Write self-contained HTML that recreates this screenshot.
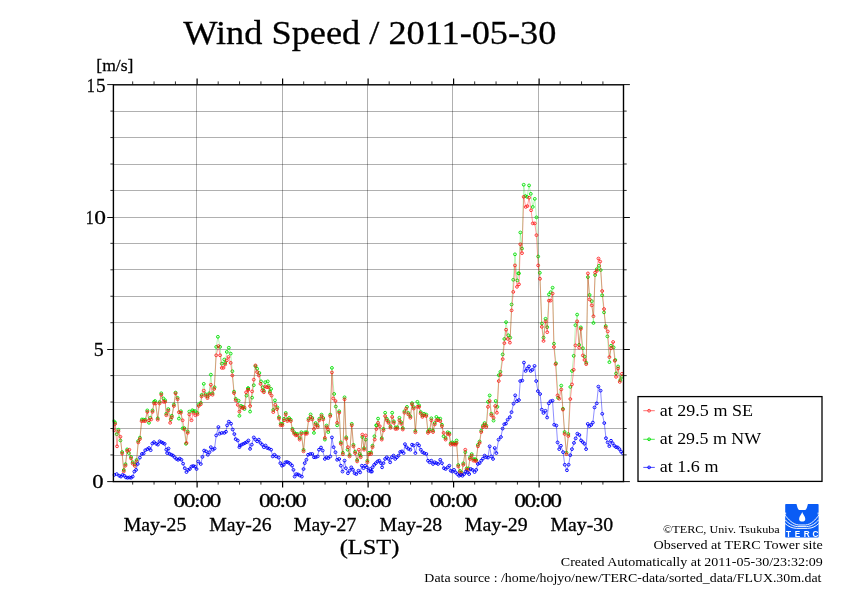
<!DOCTYPE html>
<html><head><meta charset="utf-8"><title>Wind Speed / 2011-05-30</title>
<style>html,body{margin:0;padding:0;background:#fff;width:842px;height:595px;overflow:hidden}svg{display:block}</style>
</head><body>
<svg width="842" height="595" viewBox="0 0 842 595">
<defs><clipPath id="pc"><rect x="112.6" y="84.6" width="511.4" height="400"/></clipPath></defs>
<rect width="842" height="595" fill="#fff"/>
<path d="M113.4 455.5H623.7M113.4 428.5H623.7M113.4 402.5H623.7M113.4 375.5H623.7M113.4 349.5H623.7M113.4 322.5H623.7M113.4 296.5H623.7M113.4 269.5H623.7M113.4 243.5H623.7M113.4 217.5H623.7M113.4 190.5H623.7M113.4 164.5H623.7M113.4 137.5H623.7M113.4 111.5H623.7" stroke="#000" stroke-opacity="0.31" stroke-width="1" fill="none"/><path d="M196.5 84.6V481.4M282.5 84.6V481.4M367.5 84.6V481.4M452.5 84.6V481.4M538.5 84.6V481.4" stroke="#000" stroke-opacity="0.31" stroke-width="1" fill="none"/><path d="M197.10 481.4V487.6M197.10 84.6V78.4M282.60 481.4V487.6M282.60 84.6V78.4M368.10 481.4V487.6M368.10 84.6V78.4M453.60 481.4V487.6M453.60 84.6V78.4M539.10 481.4V487.6M539.10 84.6V78.4" stroke="#000" stroke-width="1.2" fill="none"/><path d="M107.20 481.60H113.4M623.7 481.60H629.90M107.20 349.50H113.4M623.7 349.50H629.90M107.20 217.50H113.4M623.7 217.50H629.90M107.20 84.60H113.4M623.7 84.60H629.90" stroke="#000" stroke-width="0.95" fill="none"/><path d="M110.40 454.95H113.4M623.7 454.95H626.70M110.40 428.50H113.4M623.7 428.50H626.70M110.40 402.05H113.4M623.7 402.05H626.70M110.40 375.60H113.4M623.7 375.60H626.70M110.40 322.70H113.4M623.7 322.70H626.70M110.40 296.25H113.4M623.7 296.25H626.70M110.40 269.80H113.4M623.7 269.80H626.70M110.40 243.35H113.4M623.7 243.35H626.70M110.40 190.45H113.4M623.7 190.45H626.70M110.40 164.00H113.4M623.7 164.00H626.70M110.40 137.55H113.4M623.7 137.55H626.70M110.40 111.10H113.4M623.7 111.10H626.70M132.68 481.4V484.6M132.68 84.6V81.4M154.05 481.4V484.6M154.05 84.6V81.4M175.43 481.4V484.6M175.43 84.6V81.4M218.18 481.4V484.6M218.18 84.6V81.4M239.55 481.4V484.6M239.55 84.6V81.4M260.93 481.4V484.6M260.93 84.6V81.4M303.68 481.4V484.6M303.68 84.6V81.4M325.05 481.4V484.6M325.05 84.6V81.4M346.43 481.4V484.6M346.43 84.6V81.4M389.18 481.4V484.6M389.18 84.6V81.4M410.55 481.4V484.6M410.55 84.6V81.4M431.93 481.4V484.6M431.93 84.6V81.4M474.68 481.4V484.6M474.68 84.6V81.4M496.05 481.4V484.6M496.05 84.6V81.4M517.42 481.4V484.6M517.42 84.6V81.4M560.17 481.4V484.6M560.17 84.6V81.4M581.55 481.4V484.6M581.55 84.6V81.4M602.92 481.4V484.6M602.92 84.6V81.4" stroke="#333" stroke-width="1" fill="none"/><g clip-path="url(#pc)"><g opacity="1.0"><path d="M113.70 421.13 L115.04 422.49 L116.72 434.24 L118.40 429.72 L120.42 440.46 L122.10 452.07 L123.78 470.05 L125.46 464.17 L127.14 449.38 L128.82 453.07 L131.01 456.95 L132.69 462.16 L134.87 464.51 L136.55 459.97 L138.24 440.98 L139.92 437.62 L141.93 419.45 L143.61 419.63 L145.29 419.63 L147.31 410.39 L148.99 422.82 L150.34 417.77 L152.52 410.39 L154.03 401.81 L155.04 400.97 L157.73 418.29 L159.58 401.99 L161.26 393.25 L163.45 398.45 L165.13 400.31 L166.30 413.75 L168.32 409.05 L170.84 419.45 L171.85 415.77 L173.87 404.51 L175.55 392.56 L177.56 397.79 L178.91 418.61 L180.92 411.23 L182.61 428.36 L184.29 428.04 L185.97 443.82 L187.65 431.40 L189.33 411.55 L192.35 410.21 L193.19 411.23 L194.87 411.05 L197.39 412.91 L198.74 404.51 L200.76 402.83 L201.60 394.97 L203.78 383.87 L205.46 394.13 L207.48 396.65 L209.16 393.29 L210.84 374.62 L212.52 393.29 L214.54 387.23 L216.22 346.89 L217.90 336.81 L220.08 346.89 L221.76 363.70 L224.29 359.50 L225.13 363.04 L226.81 351.93 L228.82 347.73 L230.67 353.61 L232.35 371.26 L234.03 391.61 L235.71 398.84 L238.57 400.67 L239.41 415.80 L241.09 405.89 L242.77 406.74 L244.45 409.08 L246.47 395.63 L248.07 388.25 L248.15 388.25 L250.08 411.60 L252.10 397.65 L253.78 385.21 L255.46 366.22 L257.14 368.74 L259.33 372.94 L261.01 381.34 L262.69 387.23 L263.87 390.77 L265.21 382.18 L267.73 381.34 L268.57 385.73 L269.92 391.61 L271.09 388.91 L273.28 409.92 L274.96 400.34 L277.31 407.39 L278.99 417.11 L280.67 423.84 L282.35 423.84 L284.03 418.79 L285.71 412.91 L287.39 419.63 L289.08 417.95 L290.76 419.63 L292.44 428.88 L294.12 432.24 L295.80 433.92 L297.48 433.92 L299.66 438.12 L301.34 432.24 L303.53 449.89 L305.21 432.24 L306.89 432.24 L308.57 418.79 L310.59 414.41 L312.27 417.95 L313.95 432.90 L315.63 423.00 L317.65 425.52 L319.33 418.79 L321.51 414.59 L323.19 417.95 L324.87 439.62 L326.55 425.52 L328.24 432.06 L330.25 414.59 L331.93 367.90 L334.12 393.95 L335.80 406.55 L337.14 425.34 L339.16 411.23 L340.84 442.32 L342.86 452.74 L344.54 397.31 L346.22 437.28 L347.56 449.71 L349.58 454.93 L351.76 423.84 L353.45 444.84 L355.13 451.57 L357.14 459.97 L359.66 453.91 L360.67 455.77 L362.35 437.10 L364.03 448.21 L365.71 439.62 L367.39 460.81 L369.08 452.74 L371.09 452.41 L372.52 445.68 L374.45 436.26 L376.39 425.34 L376.47 425.34 L378.07 418.61 L381.76 438.12 L383.45 428.88 L385.13 412.73 L386.81 418.79 L388.49 421.32 L390.50 426.36 L392.18 412.73 L393.87 421.32 L395.55 427.53 L397.23 427.20 L399.41 417.77 L401.09 422.16 L402.77 428.04 L404.45 411.23 L406.97 406.85 L408.32 412.91 L410.34 416.27 L412.02 403.15 L413.70 407.03 L415.38 430.89 L417.39 401.81 L419.08 405.35 L420.76 412.07 L422.44 415.43 L424.12 413.75 L426.30 414.59 L427.98 431.40 L429.66 429.72 L431.34 418.28 L433.03 430.56 L434.71 423.00 L436.39 416.93 L438.07 418.79 L440.25 418.61 L441.93 424.68 L443.61 436.26 L445.63 438.12 L447.65 432.24 L449.33 433.08 L450.67 443.16 L452.35 442.32 L454.03 443.16 L455.71 443.16 L456.55 440.46 L458.24 465.01 L459.92 470.89 L461.60 472.58 L463.28 463.33 L465.29 452.23 L466.64 468.37 L468.32 468.37 L470.00 457.45 L471.68 454.09 L473.36 459.13 L475.04 459.13 L476.22 459.97 L477.90 444.84 L479.58 441.48 L481.26 430.56 L482.94 425.52 L484.62 423.00 L486.30 425.52 L487.98 401.81 L489.66 395.42 L491.34 413.75 L493.53 420.63 L495.71 400.97 L497.39 406.85 L498.74 375.17 L500.42 371.81 L502.69 354.41 L504.37 338.95 L506.05 322.14 L508.24 335.25 L510.25 337.61 L511.60 304.50 L513.28 279.79 L514.96 254.33 L517.31 280.46 L518.32 273.32 L518.99 273.40 L520.34 232.48 L522.02 248.61 L523.70 184.75 L525.38 196.01 L527.06 196.85 L529.08 185.42 L530.76 193.82 L532.77 206.93 L534.79 198.87 L536.47 217.35 L538.15 256.51 L539.83 272.82 L541.85 323.49 L543.53 337.61 L545.55 318.78 L547.23 327.18 L548.91 294.41 L550.59 292.23 L552.61 287.69 L553.95 343.66 L555.97 363.32 L558.07 397.86 L561.26 385.59 L562.94 408.78 L564.62 431.97 L566.47 452.66 L568.32 433.99 L570.34 386.93 L572.02 370.97 L573.70 355.84 L575.46 325.17 L577.14 314.58 L579.16 344.83 L580.84 327.37 L582.86 348.19 L584.54 356.60 L586.22 362.66 L587.90 277.10 L589.58 294.92 L591.76 301.13 L593.45 322.98 L595.13 275.08 L596.81 269.20 L598.99 265.84 L600.67 270.04 L602.18 295.25 L604.03 312.39 L605.71 326.02 L607.39 336.43 L609.41 362.14 L611.09 345.67 L613.61 347.35 L615.29 359.96 L616.05 373.49 L618.07 366.43 L620.25 380.21 L621.93 376.85" stroke="#00e000" stroke-width="0.45" stroke-opacity="0.6" fill="none"/><g stroke="#00e000" stroke-width="0.9" fill="none"><ellipse cx="113.70" cy="421.13" rx="1.45" ry="1.38"/><ellipse cx="115.04" cy="422.49" rx="1.45" ry="1.38"/><ellipse cx="116.72" cy="434.24" rx="1.45" ry="1.38"/><ellipse cx="118.40" cy="429.72" rx="1.45" ry="1.38"/><ellipse cx="120.42" cy="440.46" rx="1.45" ry="1.38"/><ellipse cx="122.10" cy="452.07" rx="1.45" ry="1.38"/><ellipse cx="123.78" cy="470.05" rx="1.45" ry="1.38"/><ellipse cx="125.46" cy="464.17" rx="1.45" ry="1.38"/><ellipse cx="127.14" cy="449.38" rx="1.45" ry="1.38"/><ellipse cx="128.82" cy="453.07" rx="1.45" ry="1.38"/><ellipse cx="131.01" cy="456.95" rx="1.45" ry="1.38"/><ellipse cx="132.69" cy="462.16" rx="1.45" ry="1.38"/><ellipse cx="134.87" cy="464.51" rx="1.45" ry="1.38"/><ellipse cx="136.55" cy="459.97" rx="1.45" ry="1.38"/><ellipse cx="138.24" cy="440.98" rx="1.45" ry="1.38"/><ellipse cx="139.92" cy="437.62" rx="1.45" ry="1.38"/><ellipse cx="141.93" cy="419.45" rx="1.45" ry="1.38"/><ellipse cx="143.61" cy="419.63" rx="1.45" ry="1.38"/><ellipse cx="145.29" cy="419.63" rx="1.45" ry="1.38"/><ellipse cx="147.31" cy="410.39" rx="1.45" ry="1.38"/><ellipse cx="148.99" cy="422.82" rx="1.45" ry="1.38"/><ellipse cx="150.34" cy="417.77" rx="1.45" ry="1.38"/><ellipse cx="152.52" cy="410.39" rx="1.45" ry="1.38"/><ellipse cx="154.03" cy="401.81" rx="1.45" ry="1.38"/><ellipse cx="155.04" cy="400.97" rx="1.45" ry="1.38"/><ellipse cx="157.73" cy="418.29" rx="1.45" ry="1.38"/><ellipse cx="159.58" cy="401.99" rx="1.45" ry="1.38"/><ellipse cx="161.26" cy="393.25" rx="1.45" ry="1.38"/><ellipse cx="163.45" cy="398.45" rx="1.45" ry="1.38"/><ellipse cx="165.13" cy="400.31" rx="1.45" ry="1.38"/><ellipse cx="166.30" cy="413.75" rx="1.45" ry="1.38"/><ellipse cx="168.32" cy="409.05" rx="1.45" ry="1.38"/><ellipse cx="170.84" cy="419.45" rx="1.45" ry="1.38"/><ellipse cx="171.85" cy="415.77" rx="1.45" ry="1.38"/><ellipse cx="173.87" cy="404.51" rx="1.45" ry="1.38"/><ellipse cx="175.55" cy="392.56" rx="1.45" ry="1.38"/><ellipse cx="177.56" cy="397.79" rx="1.45" ry="1.38"/><ellipse cx="178.91" cy="418.61" rx="1.45" ry="1.38"/><ellipse cx="180.92" cy="411.23" rx="1.45" ry="1.38"/><ellipse cx="182.61" cy="428.36" rx="1.45" ry="1.38"/><ellipse cx="184.29" cy="428.04" rx="1.45" ry="1.38"/><ellipse cx="185.97" cy="443.82" rx="1.45" ry="1.38"/><ellipse cx="187.65" cy="431.40" rx="1.45" ry="1.38"/><ellipse cx="189.33" cy="411.55" rx="1.45" ry="1.38"/><ellipse cx="192.35" cy="410.21" rx="1.45" ry="1.38"/><ellipse cx="193.19" cy="411.23" rx="1.45" ry="1.38"/><ellipse cx="194.87" cy="411.05" rx="1.45" ry="1.38"/><ellipse cx="197.39" cy="412.91" rx="1.45" ry="1.38"/><ellipse cx="198.74" cy="404.51" rx="1.45" ry="1.38"/><ellipse cx="200.76" cy="402.83" rx="1.45" ry="1.38"/><ellipse cx="201.60" cy="394.97" rx="1.45" ry="1.38"/><ellipse cx="203.78" cy="383.87" rx="1.45" ry="1.38"/><ellipse cx="205.46" cy="394.13" rx="1.45" ry="1.38"/><ellipse cx="207.48" cy="396.65" rx="1.45" ry="1.38"/><ellipse cx="209.16" cy="393.29" rx="1.45" ry="1.38"/><ellipse cx="210.84" cy="374.62" rx="1.45" ry="1.38"/><ellipse cx="212.52" cy="393.29" rx="1.45" ry="1.38"/><ellipse cx="214.54" cy="387.23" rx="1.45" ry="1.38"/><ellipse cx="216.22" cy="346.89" rx="1.45" ry="1.38"/><ellipse cx="217.90" cy="336.81" rx="1.45" ry="1.38"/><ellipse cx="220.08" cy="346.89" rx="1.45" ry="1.38"/><ellipse cx="221.76" cy="363.70" rx="1.45" ry="1.38"/><ellipse cx="224.29" cy="359.50" rx="1.45" ry="1.38"/><ellipse cx="225.13" cy="363.04" rx="1.45" ry="1.38"/><ellipse cx="226.81" cy="351.93" rx="1.45" ry="1.38"/><ellipse cx="228.82" cy="347.73" rx="1.45" ry="1.38"/><ellipse cx="230.67" cy="353.61" rx="1.45" ry="1.38"/><ellipse cx="232.35" cy="371.26" rx="1.45" ry="1.38"/><ellipse cx="234.03" cy="391.61" rx="1.45" ry="1.38"/><ellipse cx="235.71" cy="398.84" rx="1.45" ry="1.38"/><ellipse cx="238.57" cy="400.67" rx="1.45" ry="1.38"/><ellipse cx="239.41" cy="415.80" rx="1.45" ry="1.38"/><ellipse cx="241.09" cy="405.89" rx="1.45" ry="1.38"/><ellipse cx="242.77" cy="406.74" rx="1.45" ry="1.38"/><ellipse cx="244.45" cy="409.08" rx="1.45" ry="1.38"/><ellipse cx="246.47" cy="395.63" rx="1.45" ry="1.38"/><ellipse cx="248.07" cy="388.25" rx="1.45" ry="1.38"/><ellipse cx="248.15" cy="388.25" rx="1.45" ry="1.38"/><ellipse cx="250.08" cy="411.60" rx="1.45" ry="1.38"/><ellipse cx="252.10" cy="397.65" rx="1.45" ry="1.38"/><ellipse cx="253.78" cy="385.21" rx="1.45" ry="1.38"/><ellipse cx="255.46" cy="366.22" rx="1.45" ry="1.38"/><ellipse cx="257.14" cy="368.74" rx="1.45" ry="1.38"/><ellipse cx="259.33" cy="372.94" rx="1.45" ry="1.38"/><ellipse cx="261.01" cy="381.34" rx="1.45" ry="1.38"/><ellipse cx="262.69" cy="387.23" rx="1.45" ry="1.38"/><ellipse cx="263.87" cy="390.77" rx="1.45" ry="1.38"/><ellipse cx="265.21" cy="382.18" rx="1.45" ry="1.38"/><ellipse cx="267.73" cy="381.34" rx="1.45" ry="1.38"/><ellipse cx="268.57" cy="385.73" rx="1.45" ry="1.38"/><ellipse cx="269.92" cy="391.61" rx="1.45" ry="1.38"/><ellipse cx="271.09" cy="388.91" rx="1.45" ry="1.38"/><ellipse cx="273.28" cy="409.92" rx="1.45" ry="1.38"/><ellipse cx="274.96" cy="400.34" rx="1.45" ry="1.38"/><ellipse cx="277.31" cy="407.39" rx="1.45" ry="1.38"/><ellipse cx="278.99" cy="417.11" rx="1.45" ry="1.38"/><ellipse cx="280.67" cy="423.84" rx="1.45" ry="1.38"/><ellipse cx="282.35" cy="423.84" rx="1.45" ry="1.38"/><ellipse cx="284.03" cy="418.79" rx="1.45" ry="1.38"/><ellipse cx="285.71" cy="412.91" rx="1.45" ry="1.38"/><ellipse cx="287.39" cy="419.63" rx="1.45" ry="1.38"/><ellipse cx="289.08" cy="417.95" rx="1.45" ry="1.38"/><ellipse cx="290.76" cy="419.63" rx="1.45" ry="1.38"/><ellipse cx="292.44" cy="428.88" rx="1.45" ry="1.38"/><ellipse cx="294.12" cy="432.24" rx="1.45" ry="1.38"/><ellipse cx="295.80" cy="433.92" rx="1.45" ry="1.38"/><ellipse cx="297.48" cy="433.92" rx="1.45" ry="1.38"/><ellipse cx="299.66" cy="438.12" rx="1.45" ry="1.38"/><ellipse cx="301.34" cy="432.24" rx="1.45" ry="1.38"/><ellipse cx="303.53" cy="449.89" rx="1.45" ry="1.38"/><ellipse cx="305.21" cy="432.24" rx="1.45" ry="1.38"/><ellipse cx="306.89" cy="432.24" rx="1.45" ry="1.38"/><ellipse cx="308.57" cy="418.79" rx="1.45" ry="1.38"/><ellipse cx="310.59" cy="414.41" rx="1.45" ry="1.38"/><ellipse cx="312.27" cy="417.95" rx="1.45" ry="1.38"/><ellipse cx="313.95" cy="432.90" rx="1.45" ry="1.38"/><ellipse cx="315.63" cy="423.00" rx="1.45" ry="1.38"/><ellipse cx="317.65" cy="425.52" rx="1.45" ry="1.38"/><ellipse cx="319.33" cy="418.79" rx="1.45" ry="1.38"/><ellipse cx="321.51" cy="414.59" rx="1.45" ry="1.38"/><ellipse cx="323.19" cy="417.95" rx="1.45" ry="1.38"/><ellipse cx="324.87" cy="439.62" rx="1.45" ry="1.38"/><ellipse cx="326.55" cy="425.52" rx="1.45" ry="1.38"/><ellipse cx="328.24" cy="432.06" rx="1.45" ry="1.38"/><ellipse cx="330.25" cy="414.59" rx="1.45" ry="1.38"/><ellipse cx="331.93" cy="367.90" rx="1.45" ry="1.38"/><ellipse cx="334.12" cy="393.95" rx="1.45" ry="1.38"/><ellipse cx="335.80" cy="406.55" rx="1.45" ry="1.38"/><ellipse cx="337.14" cy="425.34" rx="1.45" ry="1.38"/><ellipse cx="339.16" cy="411.23" rx="1.45" ry="1.38"/><ellipse cx="340.84" cy="442.32" rx="1.45" ry="1.38"/><ellipse cx="342.86" cy="452.74" rx="1.45" ry="1.38"/><ellipse cx="344.54" cy="397.31" rx="1.45" ry="1.38"/><ellipse cx="346.22" cy="437.28" rx="1.45" ry="1.38"/><ellipse cx="347.56" cy="449.71" rx="1.45" ry="1.38"/><ellipse cx="349.58" cy="454.93" rx="1.45" ry="1.38"/><ellipse cx="351.76" cy="423.84" rx="1.45" ry="1.38"/><ellipse cx="353.45" cy="444.84" rx="1.45" ry="1.38"/><ellipse cx="355.13" cy="451.57" rx="1.45" ry="1.38"/><ellipse cx="357.14" cy="459.97" rx="1.45" ry="1.38"/><ellipse cx="359.66" cy="453.91" rx="1.45" ry="1.38"/><ellipse cx="360.67" cy="455.77" rx="1.45" ry="1.38"/><ellipse cx="362.35" cy="437.10" rx="1.45" ry="1.38"/><ellipse cx="364.03" cy="448.21" rx="1.45" ry="1.38"/><ellipse cx="365.71" cy="439.62" rx="1.45" ry="1.38"/><ellipse cx="367.39" cy="460.81" rx="1.45" ry="1.38"/><ellipse cx="369.08" cy="452.74" rx="1.45" ry="1.38"/><ellipse cx="371.09" cy="452.41" rx="1.45" ry="1.38"/><ellipse cx="372.52" cy="445.68" rx="1.45" ry="1.38"/><ellipse cx="374.45" cy="436.26" rx="1.45" ry="1.38"/><ellipse cx="376.39" cy="425.34" rx="1.45" ry="1.38"/><ellipse cx="376.47" cy="425.34" rx="1.45" ry="1.38"/><ellipse cx="378.07" cy="418.61" rx="1.45" ry="1.38"/><ellipse cx="381.76" cy="438.12" rx="1.45" ry="1.38"/><ellipse cx="383.45" cy="428.88" rx="1.45" ry="1.38"/><ellipse cx="385.13" cy="412.73" rx="1.45" ry="1.38"/><ellipse cx="386.81" cy="418.79" rx="1.45" ry="1.38"/><ellipse cx="388.49" cy="421.32" rx="1.45" ry="1.38"/><ellipse cx="390.50" cy="426.36" rx="1.45" ry="1.38"/><ellipse cx="392.18" cy="412.73" rx="1.45" ry="1.38"/><ellipse cx="393.87" cy="421.32" rx="1.45" ry="1.38"/><ellipse cx="395.55" cy="427.53" rx="1.45" ry="1.38"/><ellipse cx="397.23" cy="427.20" rx="1.45" ry="1.38"/><ellipse cx="399.41" cy="417.77" rx="1.45" ry="1.38"/><ellipse cx="401.09" cy="422.16" rx="1.45" ry="1.38"/><ellipse cx="402.77" cy="428.04" rx="1.45" ry="1.38"/><ellipse cx="404.45" cy="411.23" rx="1.45" ry="1.38"/><ellipse cx="406.97" cy="406.85" rx="1.45" ry="1.38"/><ellipse cx="408.32" cy="412.91" rx="1.45" ry="1.38"/><ellipse cx="410.34" cy="416.27" rx="1.45" ry="1.38"/><ellipse cx="412.02" cy="403.15" rx="1.45" ry="1.38"/><ellipse cx="413.70" cy="407.03" rx="1.45" ry="1.38"/><ellipse cx="415.38" cy="430.89" rx="1.45" ry="1.38"/><ellipse cx="417.39" cy="401.81" rx="1.45" ry="1.38"/><ellipse cx="419.08" cy="405.35" rx="1.45" ry="1.38"/><ellipse cx="420.76" cy="412.07" rx="1.45" ry="1.38"/><ellipse cx="422.44" cy="415.43" rx="1.45" ry="1.38"/><ellipse cx="424.12" cy="413.75" rx="1.45" ry="1.38"/><ellipse cx="426.30" cy="414.59" rx="1.45" ry="1.38"/><ellipse cx="427.98" cy="431.40" rx="1.45" ry="1.38"/><ellipse cx="429.66" cy="429.72" rx="1.45" ry="1.38"/><ellipse cx="431.34" cy="418.28" rx="1.45" ry="1.38"/><ellipse cx="433.03" cy="430.56" rx="1.45" ry="1.38"/><ellipse cx="434.71" cy="423.00" rx="1.45" ry="1.38"/><ellipse cx="436.39" cy="416.93" rx="1.45" ry="1.38"/><ellipse cx="438.07" cy="418.79" rx="1.45" ry="1.38"/><ellipse cx="440.25" cy="418.61" rx="1.45" ry="1.38"/><ellipse cx="441.93" cy="424.68" rx="1.45" ry="1.38"/><ellipse cx="443.61" cy="436.26" rx="1.45" ry="1.38"/><ellipse cx="445.63" cy="438.12" rx="1.45" ry="1.38"/><ellipse cx="447.65" cy="432.24" rx="1.45" ry="1.38"/><ellipse cx="449.33" cy="433.08" rx="1.45" ry="1.38"/><ellipse cx="450.67" cy="443.16" rx="1.45" ry="1.38"/><ellipse cx="452.35" cy="442.32" rx="1.45" ry="1.38"/><ellipse cx="454.03" cy="443.16" rx="1.45" ry="1.38"/><ellipse cx="455.71" cy="443.16" rx="1.45" ry="1.38"/><ellipse cx="456.55" cy="440.46" rx="1.45" ry="1.38"/><ellipse cx="458.24" cy="465.01" rx="1.45" ry="1.38"/><ellipse cx="459.92" cy="470.89" rx="1.45" ry="1.38"/><ellipse cx="461.60" cy="472.58" rx="1.45" ry="1.38"/><ellipse cx="463.28" cy="463.33" rx="1.45" ry="1.38"/><ellipse cx="465.29" cy="452.23" rx="1.45" ry="1.38"/><ellipse cx="466.64" cy="468.37" rx="1.45" ry="1.38"/><ellipse cx="468.32" cy="468.37" rx="1.45" ry="1.38"/><ellipse cx="470.00" cy="457.45" rx="1.45" ry="1.38"/><ellipse cx="471.68" cy="454.09" rx="1.45" ry="1.38"/><ellipse cx="473.36" cy="459.13" rx="1.45" ry="1.38"/><ellipse cx="475.04" cy="459.13" rx="1.45" ry="1.38"/><ellipse cx="476.22" cy="459.97" rx="1.45" ry="1.38"/><ellipse cx="477.90" cy="444.84" rx="1.45" ry="1.38"/><ellipse cx="479.58" cy="441.48" rx="1.45" ry="1.38"/><ellipse cx="481.26" cy="430.56" rx="1.45" ry="1.38"/><ellipse cx="482.94" cy="425.52" rx="1.45" ry="1.38"/><ellipse cx="484.62" cy="423.00" rx="1.45" ry="1.38"/><ellipse cx="486.30" cy="425.52" rx="1.45" ry="1.38"/><ellipse cx="487.98" cy="401.81" rx="1.45" ry="1.38"/><ellipse cx="489.66" cy="395.42" rx="1.45" ry="1.38"/><ellipse cx="491.34" cy="413.75" rx="1.45" ry="1.38"/><ellipse cx="493.53" cy="420.63" rx="1.45" ry="1.38"/><ellipse cx="495.71" cy="400.97" rx="1.45" ry="1.38"/><ellipse cx="497.39" cy="406.85" rx="1.45" ry="1.38"/><ellipse cx="498.74" cy="375.17" rx="1.45" ry="1.38"/><ellipse cx="500.42" cy="371.81" rx="1.45" ry="1.38"/><ellipse cx="502.69" cy="354.41" rx="1.45" ry="1.38"/><ellipse cx="504.37" cy="338.95" rx="1.45" ry="1.38"/><ellipse cx="506.05" cy="322.14" rx="1.45" ry="1.38"/><ellipse cx="508.24" cy="335.25" rx="1.45" ry="1.38"/><ellipse cx="510.25" cy="337.61" rx="1.45" ry="1.38"/><ellipse cx="511.60" cy="304.50" rx="1.45" ry="1.38"/><ellipse cx="513.28" cy="279.79" rx="1.45" ry="1.38"/><ellipse cx="514.96" cy="254.33" rx="1.45" ry="1.38"/><ellipse cx="517.31" cy="280.46" rx="1.45" ry="1.38"/><ellipse cx="518.32" cy="273.32" rx="1.45" ry="1.38"/><ellipse cx="518.99" cy="273.40" rx="1.45" ry="1.38"/><ellipse cx="520.34" cy="232.48" rx="1.45" ry="1.38"/><ellipse cx="522.02" cy="248.61" rx="1.45" ry="1.38"/><ellipse cx="523.70" cy="184.75" rx="1.45" ry="1.38"/><ellipse cx="525.38" cy="196.01" rx="1.45" ry="1.38"/><ellipse cx="527.06" cy="196.85" rx="1.45" ry="1.38"/><ellipse cx="529.08" cy="185.42" rx="1.45" ry="1.38"/><ellipse cx="530.76" cy="193.82" rx="1.45" ry="1.38"/><ellipse cx="532.77" cy="206.93" rx="1.45" ry="1.38"/><ellipse cx="534.79" cy="198.87" rx="1.45" ry="1.38"/><ellipse cx="536.47" cy="217.35" rx="1.45" ry="1.38"/><ellipse cx="538.15" cy="256.51" rx="1.45" ry="1.38"/><ellipse cx="539.83" cy="272.82" rx="1.45" ry="1.38"/><ellipse cx="541.85" cy="323.49" rx="1.45" ry="1.38"/><ellipse cx="543.53" cy="337.61" rx="1.45" ry="1.38"/><ellipse cx="545.55" cy="318.78" rx="1.45" ry="1.38"/><ellipse cx="547.23" cy="327.18" rx="1.45" ry="1.38"/><ellipse cx="548.91" cy="294.41" rx="1.45" ry="1.38"/><ellipse cx="550.59" cy="292.23" rx="1.45" ry="1.38"/><ellipse cx="552.61" cy="287.69" rx="1.45" ry="1.38"/><ellipse cx="553.95" cy="343.66" rx="1.45" ry="1.38"/><ellipse cx="555.97" cy="363.32" rx="1.45" ry="1.38"/><ellipse cx="558.07" cy="397.86" rx="1.45" ry="1.38"/><ellipse cx="561.26" cy="385.59" rx="1.45" ry="1.38"/><ellipse cx="562.94" cy="408.78" rx="1.45" ry="1.38"/><ellipse cx="564.62" cy="431.97" rx="1.45" ry="1.38"/><ellipse cx="566.47" cy="452.66" rx="1.45" ry="1.38"/><ellipse cx="568.32" cy="433.99" rx="1.45" ry="1.38"/><ellipse cx="570.34" cy="386.93" rx="1.45" ry="1.38"/><ellipse cx="572.02" cy="370.97" rx="1.45" ry="1.38"/><ellipse cx="573.70" cy="355.84" rx="1.45" ry="1.38"/><ellipse cx="575.46" cy="325.17" rx="1.45" ry="1.38"/><ellipse cx="577.14" cy="314.58" rx="1.45" ry="1.38"/><ellipse cx="579.16" cy="344.83" rx="1.45" ry="1.38"/><ellipse cx="580.84" cy="327.37" rx="1.45" ry="1.38"/><ellipse cx="582.86" cy="348.19" rx="1.45" ry="1.38"/><ellipse cx="584.54" cy="356.60" rx="1.45" ry="1.38"/><ellipse cx="586.22" cy="362.66" rx="1.45" ry="1.38"/><ellipse cx="587.90" cy="277.10" rx="1.45" ry="1.38"/><ellipse cx="589.58" cy="294.92" rx="1.45" ry="1.38"/><ellipse cx="591.76" cy="301.13" rx="1.45" ry="1.38"/><ellipse cx="593.45" cy="322.98" rx="1.45" ry="1.38"/><ellipse cx="595.13" cy="275.08" rx="1.45" ry="1.38"/><ellipse cx="596.81" cy="269.20" rx="1.45" ry="1.38"/><ellipse cx="598.99" cy="265.84" rx="1.45" ry="1.38"/><ellipse cx="600.67" cy="270.04" rx="1.45" ry="1.38"/><ellipse cx="602.18" cy="295.25" rx="1.45" ry="1.38"/><ellipse cx="604.03" cy="312.39" rx="1.45" ry="1.38"/><ellipse cx="605.71" cy="326.02" rx="1.45" ry="1.38"/><ellipse cx="607.39" cy="336.43" rx="1.45" ry="1.38"/><ellipse cx="609.41" cy="362.14" rx="1.45" ry="1.38"/><ellipse cx="611.09" cy="345.67" rx="1.45" ry="1.38"/><ellipse cx="613.61" cy="347.35" rx="1.45" ry="1.38"/><ellipse cx="615.29" cy="359.96" rx="1.45" ry="1.38"/><ellipse cx="616.05" cy="373.49" rx="1.45" ry="1.38"/><ellipse cx="618.07" cy="366.43" rx="1.45" ry="1.38"/><ellipse cx="620.25" cy="380.21" rx="1.45" ry="1.38"/><ellipse cx="621.93" cy="376.85" rx="1.45" ry="1.38"/></g></g><g opacity="0.85"><path d="M113.70 430.38 L115.04 423.99 L117.06 446.34 L118.40 431.22 L120.42 436.76 L122.10 453.57 L123.78 471.55 L125.46 465.67 L127.14 450.88 L129.33 449.71 L131.01 458.45 L132.69 463.66 L134.87 466.01 L136.55 461.47 L138.24 442.48 L139.92 439.12 L141.60 421.13 L143.61 421.13 L145.29 421.13 L147.31 411.89 L148.99 420.29 L151.18 419.45 L152.52 411.89 L154.03 403.49 L155.71 403.49 L157.73 419.79 L159.58 403.49 L161.26 394.75 L163.45 401.81 L165.13 401.81 L166.30 415.25 L168.32 410.55 L170.17 422.82 L171.85 417.27 L173.87 406.01 L175.55 393.40 L177.56 399.29 L178.91 412.23 L180.92 412.73 L182.61 420.29 L184.29 429.54 L186.47 442.98 L187.65 432.90 L189.33 414.41 L191.51 420.29 L193.19 412.73 L195.38 415.25 L197.39 414.41 L198.74 406.01 L200.76 404.33 L201.60 396.47 L203.78 390.59 L205.46 395.63 L207.48 398.15 L209.16 394.79 L210.84 384.71 L212.52 394.79 L214.20 388.91 L216.22 355.29 L218.40 346.05 L220.08 355.29 L221.76 367.90 L223.45 367.90 L225.13 364.54 L226.81 360.34 L228.49 356.97 L230.67 362.86 L232.35 375.46 L234.03 393.11 L235.71 400.34 L237.73 404.87 L239.41 411.60 L241.09 407.39 L242.77 408.24 L244.45 407.39 L246.13 392.27 L248.07 389.75 L248.15 389.75 L250.08 406.05 L252.10 391.43 L253.78 379.66 L255.46 365.38 L257.14 372.10 L258.82 375.46 L260.50 383.87 L262.18 390.59 L263.87 392.27 L265.21 386.39 L266.89 387.23 L268.57 387.23 L269.92 393.11 L271.60 395.63 L273.28 412.10 L275.29 404.87 L276.97 409.08 L278.99 418.61 L280.67 425.34 L282.35 425.34 L284.03 420.29 L285.71 414.41 L287.39 421.13 L289.08 419.45 L290.76 421.13 L292.44 430.38 L294.12 433.74 L295.80 435.42 L297.48 435.42 L299.66 439.62 L301.34 433.74 L303.53 451.39 L305.21 433.74 L306.89 433.74 L308.57 420.29 L310.59 416.93 L312.27 419.45 L313.95 429.03 L315.63 424.50 L317.65 427.02 L319.33 420.29 L321.51 416.09 L323.19 419.45 L324.87 437.94 L326.55 427.02 L328.24 429.54 L330.25 416.09 L331.93 372.44 L333.28 398.45 L335.46 400.97 L337.14 422.82 L339.16 412.73 L340.84 443.82 L342.86 454.24 L344.54 399.29 L346.22 438.78 L347.90 447.18 L349.58 456.43 L351.76 425.34 L353.45 446.34 L355.13 453.07 L357.14 461.47 L358.82 449.71 L360.67 457.27 L362.35 434.58 L364.03 449.71 L365.71 435.42 L367.39 462.31 L369.08 454.24 L371.09 453.91 L372.52 447.18 L374.71 439.62 L376.39 429.03 L378.07 422.82 L379.75 426.18 L381.76 439.62 L383.45 430.38 L385.13 416.09 L386.81 420.29 L388.49 422.82 L390.50 427.86 L392.18 416.93 L393.87 422.82 L395.55 429.03 L397.23 428.70 L399.41 420.29 L401.09 423.66 L402.77 429.54 L404.45 412.73 L406.13 408.53 L408.32 414.41 L410.34 417.77 L412.02 404.33 L413.70 408.53 L415.38 432.39 L417.39 406.85 L419.08 406.85 L420.76 413.57 L422.44 416.93 L424.12 415.25 L426.30 416.09 L427.98 432.90 L429.66 431.22 L431.34 420.29 L433.03 432.06 L434.71 424.50 L436.39 420.29 L438.07 420.29 L440.25 421.13 L441.93 426.18 L443.61 432.90 L445.63 439.62 L447.65 433.74 L449.33 434.58 L450.67 444.66 L452.35 443.82 L454.03 444.66 L455.71 444.66 L456.55 442.98 L458.24 466.51 L459.92 472.39 L461.60 474.08 L463.28 464.83 L465.29 449.71 L466.64 469.87 L468.32 469.87 L470.00 458.95 L471.68 455.59 L473.36 460.63 L475.04 460.63 L476.22 461.47 L477.90 446.34 L479.58 442.98 L481.26 432.06 L482.94 427.02 L484.62 424.50 L486.30 427.02 L487.98 406.85 L489.66 400.97 L491.34 415.25 L493.53 417.77 L495.21 406.01 L496.89 412.73 L498.74 381.05 L500.42 374.83 L502.69 359.12 L504.37 343.15 L506.05 329.71 L507.73 338.95 L509.92 342.65 L511.60 310.38 L513.28 291.89 L514.96 265.42 L516.97 286.85 L518.99 284.33 L520.34 244.24 L522.02 253.15 L523.70 196.85 L525.71 206.93 L527.39 206.09 L529.08 197.69 L531.09 210.29 L532.77 223.40 L534.79 223.40 L536.47 235.17 L538.15 265.42 L540.00 278.78 L541.85 326.85 L543.53 340.97 L545.55 321.30 L547.23 332.23 L548.91 300.63 L550.59 300.63 L552.61 293.57 L553.95 347.02 L555.55 364.24 L557.56 395.34 L559.24 398.70 L561.26 389.45 L562.94 409.62 L564.62 433.99 L566.47 454.16 L568.32 436.01 L570.34 399.03 L572.02 384.41 L573.70 369.79 L575.46 345.34 L577.14 321.30 L579.16 347.69 L580.84 328.87 L582.86 355.42 L584.54 359.96 L586.22 364.16 L587.90 273.40 L589.58 299.45 L591.76 305.34 L593.45 316.26 L595.13 272.56 L596.81 270.88 L598.49 258.53 L600.17 261.55 L602.18 291.05 L604.03 309.03 L605.71 327.52 L607.73 331.39 L609.41 357.10 L611.09 348.19 L613.11 341.97 L614.79 360.80 L616.05 376.85 L618.07 368.45 L619.75 381.89 L621.93 373.82" stroke="#ff0000" stroke-width="0.45" stroke-opacity="1.0" fill="none"/><g stroke="#ff0000" stroke-width="0.9" fill="none"><ellipse cx="113.70" cy="430.38" rx="1.45" ry="1.38"/><ellipse cx="115.04" cy="423.99" rx="1.45" ry="1.38"/><ellipse cx="117.06" cy="446.34" rx="1.45" ry="1.38"/><ellipse cx="118.40" cy="431.22" rx="1.45" ry="1.38"/><ellipse cx="120.42" cy="436.76" rx="1.45" ry="1.38"/><ellipse cx="122.10" cy="453.57" rx="1.45" ry="1.38"/><ellipse cx="123.78" cy="471.55" rx="1.45" ry="1.38"/><ellipse cx="125.46" cy="465.67" rx="1.45" ry="1.38"/><ellipse cx="127.14" cy="450.88" rx="1.45" ry="1.38"/><ellipse cx="129.33" cy="449.71" rx="1.45" ry="1.38"/><ellipse cx="131.01" cy="458.45" rx="1.45" ry="1.38"/><ellipse cx="132.69" cy="463.66" rx="1.45" ry="1.38"/><ellipse cx="134.87" cy="466.01" rx="1.45" ry="1.38"/><ellipse cx="136.55" cy="461.47" rx="1.45" ry="1.38"/><ellipse cx="138.24" cy="442.48" rx="1.45" ry="1.38"/><ellipse cx="139.92" cy="439.12" rx="1.45" ry="1.38"/><ellipse cx="141.60" cy="421.13" rx="1.45" ry="1.38"/><ellipse cx="143.61" cy="421.13" rx="1.45" ry="1.38"/><ellipse cx="145.29" cy="421.13" rx="1.45" ry="1.38"/><ellipse cx="147.31" cy="411.89" rx="1.45" ry="1.38"/><ellipse cx="148.99" cy="420.29" rx="1.45" ry="1.38"/><ellipse cx="151.18" cy="419.45" rx="1.45" ry="1.38"/><ellipse cx="152.52" cy="411.89" rx="1.45" ry="1.38"/><ellipse cx="154.03" cy="403.49" rx="1.45" ry="1.38"/><ellipse cx="155.71" cy="403.49" rx="1.45" ry="1.38"/><ellipse cx="157.73" cy="419.79" rx="1.45" ry="1.38"/><ellipse cx="159.58" cy="403.49" rx="1.45" ry="1.38"/><ellipse cx="161.26" cy="394.75" rx="1.45" ry="1.38"/><ellipse cx="163.45" cy="401.81" rx="1.45" ry="1.38"/><ellipse cx="165.13" cy="401.81" rx="1.45" ry="1.38"/><ellipse cx="166.30" cy="415.25" rx="1.45" ry="1.38"/><ellipse cx="168.32" cy="410.55" rx="1.45" ry="1.38"/><ellipse cx="170.17" cy="422.82" rx="1.45" ry="1.38"/><ellipse cx="171.85" cy="417.27" rx="1.45" ry="1.38"/><ellipse cx="173.87" cy="406.01" rx="1.45" ry="1.38"/><ellipse cx="175.55" cy="393.40" rx="1.45" ry="1.38"/><ellipse cx="177.56" cy="399.29" rx="1.45" ry="1.38"/><ellipse cx="178.91" cy="412.23" rx="1.45" ry="1.38"/><ellipse cx="180.92" cy="412.73" rx="1.45" ry="1.38"/><ellipse cx="182.61" cy="420.29" rx="1.45" ry="1.38"/><ellipse cx="184.29" cy="429.54" rx="1.45" ry="1.38"/><ellipse cx="186.47" cy="442.98" rx="1.45" ry="1.38"/><ellipse cx="187.65" cy="432.90" rx="1.45" ry="1.38"/><ellipse cx="189.33" cy="414.41" rx="1.45" ry="1.38"/><ellipse cx="191.51" cy="420.29" rx="1.45" ry="1.38"/><ellipse cx="193.19" cy="412.73" rx="1.45" ry="1.38"/><ellipse cx="195.38" cy="415.25" rx="1.45" ry="1.38"/><ellipse cx="197.39" cy="414.41" rx="1.45" ry="1.38"/><ellipse cx="198.74" cy="406.01" rx="1.45" ry="1.38"/><ellipse cx="200.76" cy="404.33" rx="1.45" ry="1.38"/><ellipse cx="201.60" cy="396.47" rx="1.45" ry="1.38"/><ellipse cx="203.78" cy="390.59" rx="1.45" ry="1.38"/><ellipse cx="205.46" cy="395.63" rx="1.45" ry="1.38"/><ellipse cx="207.48" cy="398.15" rx="1.45" ry="1.38"/><ellipse cx="209.16" cy="394.79" rx="1.45" ry="1.38"/><ellipse cx="210.84" cy="384.71" rx="1.45" ry="1.38"/><ellipse cx="212.52" cy="394.79" rx="1.45" ry="1.38"/><ellipse cx="214.20" cy="388.91" rx="1.45" ry="1.38"/><ellipse cx="216.22" cy="355.29" rx="1.45" ry="1.38"/><ellipse cx="218.40" cy="346.05" rx="1.45" ry="1.38"/><ellipse cx="220.08" cy="355.29" rx="1.45" ry="1.38"/><ellipse cx="221.76" cy="367.90" rx="1.45" ry="1.38"/><ellipse cx="223.45" cy="367.90" rx="1.45" ry="1.38"/><ellipse cx="225.13" cy="364.54" rx="1.45" ry="1.38"/><ellipse cx="226.81" cy="360.34" rx="1.45" ry="1.38"/><ellipse cx="228.49" cy="356.97" rx="1.45" ry="1.38"/><ellipse cx="230.67" cy="362.86" rx="1.45" ry="1.38"/><ellipse cx="232.35" cy="375.46" rx="1.45" ry="1.38"/><ellipse cx="234.03" cy="393.11" rx="1.45" ry="1.38"/><ellipse cx="235.71" cy="400.34" rx="1.45" ry="1.38"/><ellipse cx="237.73" cy="404.87" rx="1.45" ry="1.38"/><ellipse cx="239.41" cy="411.60" rx="1.45" ry="1.38"/><ellipse cx="241.09" cy="407.39" rx="1.45" ry="1.38"/><ellipse cx="242.77" cy="408.24" rx="1.45" ry="1.38"/><ellipse cx="244.45" cy="407.39" rx="1.45" ry="1.38"/><ellipse cx="246.13" cy="392.27" rx="1.45" ry="1.38"/><ellipse cx="248.07" cy="389.75" rx="1.45" ry="1.38"/><ellipse cx="248.15" cy="389.75" rx="1.45" ry="1.38"/><ellipse cx="250.08" cy="406.05" rx="1.45" ry="1.38"/><ellipse cx="252.10" cy="391.43" rx="1.45" ry="1.38"/><ellipse cx="253.78" cy="379.66" rx="1.45" ry="1.38"/><ellipse cx="255.46" cy="365.38" rx="1.45" ry="1.38"/><ellipse cx="257.14" cy="372.10" rx="1.45" ry="1.38"/><ellipse cx="258.82" cy="375.46" rx="1.45" ry="1.38"/><ellipse cx="260.50" cy="383.87" rx="1.45" ry="1.38"/><ellipse cx="262.18" cy="390.59" rx="1.45" ry="1.38"/><ellipse cx="263.87" cy="392.27" rx="1.45" ry="1.38"/><ellipse cx="265.21" cy="386.39" rx="1.45" ry="1.38"/><ellipse cx="266.89" cy="387.23" rx="1.45" ry="1.38"/><ellipse cx="268.57" cy="387.23" rx="1.45" ry="1.38"/><ellipse cx="269.92" cy="393.11" rx="1.45" ry="1.38"/><ellipse cx="271.60" cy="395.63" rx="1.45" ry="1.38"/><ellipse cx="273.28" cy="412.10" rx="1.45" ry="1.38"/><ellipse cx="275.29" cy="404.87" rx="1.45" ry="1.38"/><ellipse cx="276.97" cy="409.08" rx="1.45" ry="1.38"/><ellipse cx="278.99" cy="418.61" rx="1.45" ry="1.38"/><ellipse cx="280.67" cy="425.34" rx="1.45" ry="1.38"/><ellipse cx="282.35" cy="425.34" rx="1.45" ry="1.38"/><ellipse cx="284.03" cy="420.29" rx="1.45" ry="1.38"/><ellipse cx="285.71" cy="414.41" rx="1.45" ry="1.38"/><ellipse cx="287.39" cy="421.13" rx="1.45" ry="1.38"/><ellipse cx="289.08" cy="419.45" rx="1.45" ry="1.38"/><ellipse cx="290.76" cy="421.13" rx="1.45" ry="1.38"/><ellipse cx="292.44" cy="430.38" rx="1.45" ry="1.38"/><ellipse cx="294.12" cy="433.74" rx="1.45" ry="1.38"/><ellipse cx="295.80" cy="435.42" rx="1.45" ry="1.38"/><ellipse cx="297.48" cy="435.42" rx="1.45" ry="1.38"/><ellipse cx="299.66" cy="439.62" rx="1.45" ry="1.38"/><ellipse cx="301.34" cy="433.74" rx="1.45" ry="1.38"/><ellipse cx="303.53" cy="451.39" rx="1.45" ry="1.38"/><ellipse cx="305.21" cy="433.74" rx="1.45" ry="1.38"/><ellipse cx="306.89" cy="433.74" rx="1.45" ry="1.38"/><ellipse cx="308.57" cy="420.29" rx="1.45" ry="1.38"/><ellipse cx="310.59" cy="416.93" rx="1.45" ry="1.38"/><ellipse cx="312.27" cy="419.45" rx="1.45" ry="1.38"/><ellipse cx="313.95" cy="429.03" rx="1.45" ry="1.38"/><ellipse cx="315.63" cy="424.50" rx="1.45" ry="1.38"/><ellipse cx="317.65" cy="427.02" rx="1.45" ry="1.38"/><ellipse cx="319.33" cy="420.29" rx="1.45" ry="1.38"/><ellipse cx="321.51" cy="416.09" rx="1.45" ry="1.38"/><ellipse cx="323.19" cy="419.45" rx="1.45" ry="1.38"/><ellipse cx="324.87" cy="437.94" rx="1.45" ry="1.38"/><ellipse cx="326.55" cy="427.02" rx="1.45" ry="1.38"/><ellipse cx="328.24" cy="429.54" rx="1.45" ry="1.38"/><ellipse cx="330.25" cy="416.09" rx="1.45" ry="1.38"/><ellipse cx="331.93" cy="372.44" rx="1.45" ry="1.38"/><ellipse cx="333.28" cy="398.45" rx="1.45" ry="1.38"/><ellipse cx="335.46" cy="400.97" rx="1.45" ry="1.38"/><ellipse cx="337.14" cy="422.82" rx="1.45" ry="1.38"/><ellipse cx="339.16" cy="412.73" rx="1.45" ry="1.38"/><ellipse cx="340.84" cy="443.82" rx="1.45" ry="1.38"/><ellipse cx="342.86" cy="454.24" rx="1.45" ry="1.38"/><ellipse cx="344.54" cy="399.29" rx="1.45" ry="1.38"/><ellipse cx="346.22" cy="438.78" rx="1.45" ry="1.38"/><ellipse cx="347.90" cy="447.18" rx="1.45" ry="1.38"/><ellipse cx="349.58" cy="456.43" rx="1.45" ry="1.38"/><ellipse cx="351.76" cy="425.34" rx="1.45" ry="1.38"/><ellipse cx="353.45" cy="446.34" rx="1.45" ry="1.38"/><ellipse cx="355.13" cy="453.07" rx="1.45" ry="1.38"/><ellipse cx="357.14" cy="461.47" rx="1.45" ry="1.38"/><ellipse cx="358.82" cy="449.71" rx="1.45" ry="1.38"/><ellipse cx="360.67" cy="457.27" rx="1.45" ry="1.38"/><ellipse cx="362.35" cy="434.58" rx="1.45" ry="1.38"/><ellipse cx="364.03" cy="449.71" rx="1.45" ry="1.38"/><ellipse cx="365.71" cy="435.42" rx="1.45" ry="1.38"/><ellipse cx="367.39" cy="462.31" rx="1.45" ry="1.38"/><ellipse cx="369.08" cy="454.24" rx="1.45" ry="1.38"/><ellipse cx="371.09" cy="453.91" rx="1.45" ry="1.38"/><ellipse cx="372.52" cy="447.18" rx="1.45" ry="1.38"/><ellipse cx="374.71" cy="439.62" rx="1.45" ry="1.38"/><ellipse cx="376.39" cy="429.03" rx="1.45" ry="1.38"/><ellipse cx="378.07" cy="422.82" rx="1.45" ry="1.38"/><ellipse cx="379.75" cy="426.18" rx="1.45" ry="1.38"/><ellipse cx="381.76" cy="439.62" rx="1.45" ry="1.38"/><ellipse cx="383.45" cy="430.38" rx="1.45" ry="1.38"/><ellipse cx="385.13" cy="416.09" rx="1.45" ry="1.38"/><ellipse cx="386.81" cy="420.29" rx="1.45" ry="1.38"/><ellipse cx="388.49" cy="422.82" rx="1.45" ry="1.38"/><ellipse cx="390.50" cy="427.86" rx="1.45" ry="1.38"/><ellipse cx="392.18" cy="416.93" rx="1.45" ry="1.38"/><ellipse cx="393.87" cy="422.82" rx="1.45" ry="1.38"/><ellipse cx="395.55" cy="429.03" rx="1.45" ry="1.38"/><ellipse cx="397.23" cy="428.70" rx="1.45" ry="1.38"/><ellipse cx="399.41" cy="420.29" rx="1.45" ry="1.38"/><ellipse cx="401.09" cy="423.66" rx="1.45" ry="1.38"/><ellipse cx="402.77" cy="429.54" rx="1.45" ry="1.38"/><ellipse cx="404.45" cy="412.73" rx="1.45" ry="1.38"/><ellipse cx="406.13" cy="408.53" rx="1.45" ry="1.38"/><ellipse cx="408.32" cy="414.41" rx="1.45" ry="1.38"/><ellipse cx="410.34" cy="417.77" rx="1.45" ry="1.38"/><ellipse cx="412.02" cy="404.33" rx="1.45" ry="1.38"/><ellipse cx="413.70" cy="408.53" rx="1.45" ry="1.38"/><ellipse cx="415.38" cy="432.39" rx="1.45" ry="1.38"/><ellipse cx="417.39" cy="406.85" rx="1.45" ry="1.38"/><ellipse cx="419.08" cy="406.85" rx="1.45" ry="1.38"/><ellipse cx="420.76" cy="413.57" rx="1.45" ry="1.38"/><ellipse cx="422.44" cy="416.93" rx="1.45" ry="1.38"/><ellipse cx="424.12" cy="415.25" rx="1.45" ry="1.38"/><ellipse cx="426.30" cy="416.09" rx="1.45" ry="1.38"/><ellipse cx="427.98" cy="432.90" rx="1.45" ry="1.38"/><ellipse cx="429.66" cy="431.22" rx="1.45" ry="1.38"/><ellipse cx="431.34" cy="420.29" rx="1.45" ry="1.38"/><ellipse cx="433.03" cy="432.06" rx="1.45" ry="1.38"/><ellipse cx="434.71" cy="424.50" rx="1.45" ry="1.38"/><ellipse cx="436.39" cy="420.29" rx="1.45" ry="1.38"/><ellipse cx="438.07" cy="420.29" rx="1.45" ry="1.38"/><ellipse cx="440.25" cy="421.13" rx="1.45" ry="1.38"/><ellipse cx="441.93" cy="426.18" rx="1.45" ry="1.38"/><ellipse cx="443.61" cy="432.90" rx="1.45" ry="1.38"/><ellipse cx="445.63" cy="439.62" rx="1.45" ry="1.38"/><ellipse cx="447.65" cy="433.74" rx="1.45" ry="1.38"/><ellipse cx="449.33" cy="434.58" rx="1.45" ry="1.38"/><ellipse cx="450.67" cy="444.66" rx="1.45" ry="1.38"/><ellipse cx="452.35" cy="443.82" rx="1.45" ry="1.38"/><ellipse cx="454.03" cy="444.66" rx="1.45" ry="1.38"/><ellipse cx="455.71" cy="444.66" rx="1.45" ry="1.38"/><ellipse cx="456.55" cy="442.98" rx="1.45" ry="1.38"/><ellipse cx="458.24" cy="466.51" rx="1.45" ry="1.38"/><ellipse cx="459.92" cy="472.39" rx="1.45" ry="1.38"/><ellipse cx="461.60" cy="474.08" rx="1.45" ry="1.38"/><ellipse cx="463.28" cy="464.83" rx="1.45" ry="1.38"/><ellipse cx="465.29" cy="449.71" rx="1.45" ry="1.38"/><ellipse cx="466.64" cy="469.87" rx="1.45" ry="1.38"/><ellipse cx="468.32" cy="469.87" rx="1.45" ry="1.38"/><ellipse cx="470.00" cy="458.95" rx="1.45" ry="1.38"/><ellipse cx="471.68" cy="455.59" rx="1.45" ry="1.38"/><ellipse cx="473.36" cy="460.63" rx="1.45" ry="1.38"/><ellipse cx="475.04" cy="460.63" rx="1.45" ry="1.38"/><ellipse cx="476.22" cy="461.47" rx="1.45" ry="1.38"/><ellipse cx="477.90" cy="446.34" rx="1.45" ry="1.38"/><ellipse cx="479.58" cy="442.98" rx="1.45" ry="1.38"/><ellipse cx="481.26" cy="432.06" rx="1.45" ry="1.38"/><ellipse cx="482.94" cy="427.02" rx="1.45" ry="1.38"/><ellipse cx="484.62" cy="424.50" rx="1.45" ry="1.38"/><ellipse cx="486.30" cy="427.02" rx="1.45" ry="1.38"/><ellipse cx="487.98" cy="406.85" rx="1.45" ry="1.38"/><ellipse cx="489.66" cy="400.97" rx="1.45" ry="1.38"/><ellipse cx="491.34" cy="415.25" rx="1.45" ry="1.38"/><ellipse cx="493.53" cy="417.77" rx="1.45" ry="1.38"/><ellipse cx="495.21" cy="406.01" rx="1.45" ry="1.38"/><ellipse cx="496.89" cy="412.73" rx="1.45" ry="1.38"/><ellipse cx="498.74" cy="381.05" rx="1.45" ry="1.38"/><ellipse cx="500.42" cy="374.83" rx="1.45" ry="1.38"/><ellipse cx="502.69" cy="359.12" rx="1.45" ry="1.38"/><ellipse cx="504.37" cy="343.15" rx="1.45" ry="1.38"/><ellipse cx="506.05" cy="329.71" rx="1.45" ry="1.38"/><ellipse cx="507.73" cy="338.95" rx="1.45" ry="1.38"/><ellipse cx="509.92" cy="342.65" rx="1.45" ry="1.38"/><ellipse cx="511.60" cy="310.38" rx="1.45" ry="1.38"/><ellipse cx="513.28" cy="291.89" rx="1.45" ry="1.38"/><ellipse cx="514.96" cy="265.42" rx="1.45" ry="1.38"/><ellipse cx="516.97" cy="286.85" rx="1.45" ry="1.38"/><ellipse cx="518.99" cy="284.33" rx="1.45" ry="1.38"/><ellipse cx="520.34" cy="244.24" rx="1.45" ry="1.38"/><ellipse cx="522.02" cy="253.15" rx="1.45" ry="1.38"/><ellipse cx="523.70" cy="196.85" rx="1.45" ry="1.38"/><ellipse cx="525.71" cy="206.93" rx="1.45" ry="1.38"/><ellipse cx="527.39" cy="206.09" rx="1.45" ry="1.38"/><ellipse cx="529.08" cy="197.69" rx="1.45" ry="1.38"/><ellipse cx="531.09" cy="210.29" rx="1.45" ry="1.38"/><ellipse cx="532.77" cy="223.40" rx="1.45" ry="1.38"/><ellipse cx="534.79" cy="223.40" rx="1.45" ry="1.38"/><ellipse cx="536.47" cy="235.17" rx="1.45" ry="1.38"/><ellipse cx="538.15" cy="265.42" rx="1.45" ry="1.38"/><ellipse cx="540.00" cy="278.78" rx="1.45" ry="1.38"/><ellipse cx="541.85" cy="326.85" rx="1.45" ry="1.38"/><ellipse cx="543.53" cy="340.97" rx="1.45" ry="1.38"/><ellipse cx="545.55" cy="321.30" rx="1.45" ry="1.38"/><ellipse cx="547.23" cy="332.23" rx="1.45" ry="1.38"/><ellipse cx="548.91" cy="300.63" rx="1.45" ry="1.38"/><ellipse cx="550.59" cy="300.63" rx="1.45" ry="1.38"/><ellipse cx="552.61" cy="293.57" rx="1.45" ry="1.38"/><ellipse cx="553.95" cy="347.02" rx="1.45" ry="1.38"/><ellipse cx="555.55" cy="364.24" rx="1.45" ry="1.38"/><ellipse cx="557.56" cy="395.34" rx="1.45" ry="1.38"/><ellipse cx="559.24" cy="398.70" rx="1.45" ry="1.38"/><ellipse cx="561.26" cy="389.45" rx="1.45" ry="1.38"/><ellipse cx="562.94" cy="409.62" rx="1.45" ry="1.38"/><ellipse cx="564.62" cy="433.99" rx="1.45" ry="1.38"/><ellipse cx="566.47" cy="454.16" rx="1.45" ry="1.38"/><ellipse cx="568.32" cy="436.01" rx="1.45" ry="1.38"/><ellipse cx="570.34" cy="399.03" rx="1.45" ry="1.38"/><ellipse cx="572.02" cy="384.41" rx="1.45" ry="1.38"/><ellipse cx="573.70" cy="369.79" rx="1.45" ry="1.38"/><ellipse cx="575.46" cy="345.34" rx="1.45" ry="1.38"/><ellipse cx="577.14" cy="321.30" rx="1.45" ry="1.38"/><ellipse cx="579.16" cy="347.69" rx="1.45" ry="1.38"/><ellipse cx="580.84" cy="328.87" rx="1.45" ry="1.38"/><ellipse cx="582.86" cy="355.42" rx="1.45" ry="1.38"/><ellipse cx="584.54" cy="359.96" rx="1.45" ry="1.38"/><ellipse cx="586.22" cy="364.16" rx="1.45" ry="1.38"/><ellipse cx="587.90" cy="273.40" rx="1.45" ry="1.38"/><ellipse cx="589.58" cy="299.45" rx="1.45" ry="1.38"/><ellipse cx="591.76" cy="305.34" rx="1.45" ry="1.38"/><ellipse cx="593.45" cy="316.26" rx="1.45" ry="1.38"/><ellipse cx="595.13" cy="272.56" rx="1.45" ry="1.38"/><ellipse cx="596.81" cy="270.88" rx="1.45" ry="1.38"/><ellipse cx="598.49" cy="258.53" rx="1.45" ry="1.38"/><ellipse cx="600.17" cy="261.55" rx="1.45" ry="1.38"/><ellipse cx="602.18" cy="291.05" rx="1.45" ry="1.38"/><ellipse cx="604.03" cy="309.03" rx="1.45" ry="1.38"/><ellipse cx="605.71" cy="327.52" rx="1.45" ry="1.38"/><ellipse cx="607.73" cy="331.39" rx="1.45" ry="1.38"/><ellipse cx="609.41" cy="357.10" rx="1.45" ry="1.38"/><ellipse cx="611.09" cy="348.19" rx="1.45" ry="1.38"/><ellipse cx="613.11" cy="341.97" rx="1.45" ry="1.38"/><ellipse cx="614.79" cy="360.80" rx="1.45" ry="1.38"/><ellipse cx="616.05" cy="376.85" rx="1.45" ry="1.38"/><ellipse cx="618.07" cy="368.45" rx="1.45" ry="1.38"/><ellipse cx="619.75" cy="381.89" rx="1.45" ry="1.38"/><ellipse cx="621.93" cy="373.82" rx="1.45" ry="1.38"/></g></g><g opacity="1.0"><path d="M114.20 474.92 L116.72 474.08 L119.24 475.76 L120.92 476.60 L122.61 474.92 L124.29 475.76 L125.97 477.44 L127.65 477.77 L129.33 477.44 L131.01 477.77 L132.69 476.60 L134.37 471.55 L136.05 469.87 L137.73 463.99 L139.92 457.61 L141.93 453.91 L143.61 453.57 L145.29 450.21 L147.31 449.20 L148.99 448.03 L150.67 450.21 L152.35 443.49 L154.03 442.14 L156.22 443.82 L157.90 444.66 L159.58 441.30 L161.26 442.14 L162.94 442.98 L164.62 443.82 L166.30 449.71 L167.14 453.07 L168.49 448.53 L169.66 453.91 L171.34 454.75 L173.03 455.59 L174.71 457.27 L176.39 458.95 L178.07 459.79 L179.75 458.61 L181.43 459.79 L183.11 463.66 L184.79 468.19 L186.47 472.06 L188.15 469.87 L189.83 469.03 L191.51 466.51 L193.19 466.01 L194.87 466.51 L196.55 469.03 L198.24 461.47 L200.76 463.99 L202.44 456.93 L204.12 450.55 L206.13 451.39 L207.82 454.75 L209.50 452.23 L210.84 447.18 L212.86 449.71 L214.54 448.53 L216.22 435.42 L218.40 427.02 L219.58 433.74 L221.76 432.90 L224.29 432.90 L225.97 431.72 L227.14 425.34 L228.82 421.64 L231.01 423.66 L232.69 429.54 L234.37 434.08 L235.71 439.12 L237.73 440.46 L239.41 447.18 L240.00 445.50 L241.68 444.66 L243.36 443.82 L245.04 442.98 L246.72 442.14 L248.40 440.46 L250.08 448.87 L251.76 444.66 L253.78 437.44 L255.46 439.62 L257.14 441.30 L258.82 439.62 L260.50 442.98 L262.18 444.66 L263.87 447.18 L265.55 445.50 L267.23 448.03 L268.91 448.53 L271.09 449.71 L272.77 456.43 L274.45 454.75 L276.13 456.43 L278.66 457.61 L280.34 463.15 L282.02 465.67 L283.70 464.83 L285.38 462.31 L287.06 461.97 L288.74 462.65 L290.42 463.99 L292.10 465.67 L293.45 469.87 L294.62 476.60 L296.30 474.08 L297.98 474.41 L299.66 475.42 L301.85 476.60 L303.53 469.03 L304.71 463.15 L306.39 459.79 L308.07 454.75 L310.25 453.91 L312.27 453.91 L313.95 457.27 L315.63 457.27 L317.65 456.43 L318.99 449.71 L321.01 447.52 L322.69 450.55 L324.87 458.95 L326.55 457.27 L328.24 458.11 L330.25 456.43 L331.93 437.44 L333.61 447.18 L335.46 452.23 L337.14 459.79 L339.16 458.95 L340.84 465.67 L342.52 471.55 L344.54 460.63 L345.88 468.19 L347.90 473.24 L349.58 470.71 L351.26 467.35 L352.94 469.87 L354.62 473.24 L356.30 474.08 L358.49 470.71 L360.17 472.39 L361.85 465.67 L363.53 468.19 L365.21 465.67 L366.89 467.35 L368.57 470.71 L370.25 469.03 L370.84 471.55 L371.93 471.55 L372.52 467.35 L374.20 464.83 L375.88 463.15 L377.56 461.47 L379.24 460.63 L380.92 463.15 L382.10 467.35 L383.45 463.15 L385.13 458.95 L386.81 457.27 L388.49 458.95 L390.17 462.31 L391.85 457.27 L393.53 455.59 L395.21 458.95 L396.89 457.27 L398.57 455.59 L400.25 451.89 L401.93 451.39 L403.61 453.07 L404.96 444.16 L406.64 447.18 L408.32 448.87 L410.34 449.71 L412.02 444.66 L413.70 445.50 L415.38 453.07 L417.39 443.82 L419.08 445.50 L420.76 449.71 L422.44 452.23 L424.12 453.07 L426.30 453.91 L427.98 460.63 L429.66 462.31 L431.34 460.63 L433.03 463.99 L434.71 462.31 L436.39 463.15 L438.07 463.99 L440.25 459.79 L441.93 463.15 L443.95 468.19 L445.63 469.03 L447.65 467.35 L449.33 465.67 L450.67 470.71 L452.35 471.55 L454.03 469.87 L455.71 472.39 L457.39 474.08 L459.08 475.76 L460.76 474.92 L462.44 475.76 L464.12 474.08 L465.80 471.55 L467.48 472.39 L469.16 474.08 L470.84 469.03 L472.52 469.87 L474.54 472.06 L476.22 469.87 L477.90 463.99 L479.58 463.15 L481.26 460.63 L482.94 458.61 L484.62 455.59 L486.30 457.27 L487.98 457.61 L489.66 446.34 L491.34 456.43 L493.03 458.95 L494.71 448.03 L496.39 453.07 L498.57 439.62 L500.92 437.02 L502.61 428.61 L504.29 424.24 L505.97 423.57 L507.65 419.71 L509.83 417.18 L511.51 412.14 L513.53 403.74 L515.21 395.34 L516.89 401.22 L518.91 400.04 L520.25 381.05 L522.27 380.55 L523.95 362.56 L525.63 370.97 L527.31 368.45 L528.99 366.43 L530.67 370.97 L532.35 369.79 L534.54 365.92 L536.22 381.05 L537.90 391.13 L540.08 393.99 L541.76 409.62 L543.45 412.98 L545.46 410.80 L547.14 417.52 L548.82 403.40 L550.50 401.22 L552.52 400.71 L554.20 424.75 L556.39 425.59 L557.56 442.39 L559.24 449.12 L560.92 445.76 L563.07 452.14 L564.75 464.75 L566.93 470.29 L568.61 464.75 L570.29 455.17 L571.97 449.12 L573.99 442.90 L575.67 438.36 L577.35 433.66 L579.37 435.00 L581.05 440.38 L582.73 442.06 L584.41 443.74 L586.09 449.12 L587.77 423.91 L589.45 426.09 L591.13 424.92 L592.86 422.56 L594.54 407.44 L596.72 403.40 L598.40 386.60 L600.59 390.63 L602.27 413.82 L604.29 423.07 L605.97 438.19 L607.65 442.39 L609.33 446.09 L611.01 440.71 L612.69 443.24 L614.37 445.76 L616.05 447.10 L617.73 447.44 L619.41 449.12 L621.09 451.64 L622.77 453.32" stroke="#0000ff" stroke-width="0.45" stroke-opacity="1.0" fill="none"/><g stroke="#0000ff" stroke-width="0.9" fill="none"><ellipse cx="114.20" cy="474.92" rx="1.45" ry="1.38"/><ellipse cx="116.72" cy="474.08" rx="1.45" ry="1.38"/><ellipse cx="119.24" cy="475.76" rx="1.45" ry="1.38"/><ellipse cx="120.92" cy="476.60" rx="1.45" ry="1.38"/><ellipse cx="122.61" cy="474.92" rx="1.45" ry="1.38"/><ellipse cx="124.29" cy="475.76" rx="1.45" ry="1.38"/><ellipse cx="125.97" cy="477.44" rx="1.45" ry="1.38"/><ellipse cx="127.65" cy="477.77" rx="1.45" ry="1.38"/><ellipse cx="129.33" cy="477.44" rx="1.45" ry="1.38"/><ellipse cx="131.01" cy="477.77" rx="1.45" ry="1.38"/><ellipse cx="132.69" cy="476.60" rx="1.45" ry="1.38"/><ellipse cx="134.37" cy="471.55" rx="1.45" ry="1.38"/><ellipse cx="136.05" cy="469.87" rx="1.45" ry="1.38"/><ellipse cx="137.73" cy="463.99" rx="1.45" ry="1.38"/><ellipse cx="139.92" cy="457.61" rx="1.45" ry="1.38"/><ellipse cx="141.93" cy="453.91" rx="1.45" ry="1.38"/><ellipse cx="143.61" cy="453.57" rx="1.45" ry="1.38"/><ellipse cx="145.29" cy="450.21" rx="1.45" ry="1.38"/><ellipse cx="147.31" cy="449.20" rx="1.45" ry="1.38"/><ellipse cx="148.99" cy="448.03" rx="1.45" ry="1.38"/><ellipse cx="150.67" cy="450.21" rx="1.45" ry="1.38"/><ellipse cx="152.35" cy="443.49" rx="1.45" ry="1.38"/><ellipse cx="154.03" cy="442.14" rx="1.45" ry="1.38"/><ellipse cx="156.22" cy="443.82" rx="1.45" ry="1.38"/><ellipse cx="157.90" cy="444.66" rx="1.45" ry="1.38"/><ellipse cx="159.58" cy="441.30" rx="1.45" ry="1.38"/><ellipse cx="161.26" cy="442.14" rx="1.45" ry="1.38"/><ellipse cx="162.94" cy="442.98" rx="1.45" ry="1.38"/><ellipse cx="164.62" cy="443.82" rx="1.45" ry="1.38"/><ellipse cx="166.30" cy="449.71" rx="1.45" ry="1.38"/><ellipse cx="167.14" cy="453.07" rx="1.45" ry="1.38"/><ellipse cx="168.49" cy="448.53" rx="1.45" ry="1.38"/><ellipse cx="169.66" cy="453.91" rx="1.45" ry="1.38"/><ellipse cx="171.34" cy="454.75" rx="1.45" ry="1.38"/><ellipse cx="173.03" cy="455.59" rx="1.45" ry="1.38"/><ellipse cx="174.71" cy="457.27" rx="1.45" ry="1.38"/><ellipse cx="176.39" cy="458.95" rx="1.45" ry="1.38"/><ellipse cx="178.07" cy="459.79" rx="1.45" ry="1.38"/><ellipse cx="179.75" cy="458.61" rx="1.45" ry="1.38"/><ellipse cx="181.43" cy="459.79" rx="1.45" ry="1.38"/><ellipse cx="183.11" cy="463.66" rx="1.45" ry="1.38"/><ellipse cx="184.79" cy="468.19" rx="1.45" ry="1.38"/><ellipse cx="186.47" cy="472.06" rx="1.45" ry="1.38"/><ellipse cx="188.15" cy="469.87" rx="1.45" ry="1.38"/><ellipse cx="189.83" cy="469.03" rx="1.45" ry="1.38"/><ellipse cx="191.51" cy="466.51" rx="1.45" ry="1.38"/><ellipse cx="193.19" cy="466.01" rx="1.45" ry="1.38"/><ellipse cx="194.87" cy="466.51" rx="1.45" ry="1.38"/><ellipse cx="196.55" cy="469.03" rx="1.45" ry="1.38"/><ellipse cx="198.24" cy="461.47" rx="1.45" ry="1.38"/><ellipse cx="200.76" cy="463.99" rx="1.45" ry="1.38"/><ellipse cx="202.44" cy="456.93" rx="1.45" ry="1.38"/><ellipse cx="204.12" cy="450.55" rx="1.45" ry="1.38"/><ellipse cx="206.13" cy="451.39" rx="1.45" ry="1.38"/><ellipse cx="207.82" cy="454.75" rx="1.45" ry="1.38"/><ellipse cx="209.50" cy="452.23" rx="1.45" ry="1.38"/><ellipse cx="210.84" cy="447.18" rx="1.45" ry="1.38"/><ellipse cx="212.86" cy="449.71" rx="1.45" ry="1.38"/><ellipse cx="214.54" cy="448.53" rx="1.45" ry="1.38"/><ellipse cx="216.22" cy="435.42" rx="1.45" ry="1.38"/><ellipse cx="218.40" cy="427.02" rx="1.45" ry="1.38"/><ellipse cx="219.58" cy="433.74" rx="1.45" ry="1.38"/><ellipse cx="221.76" cy="432.90" rx="1.45" ry="1.38"/><ellipse cx="224.29" cy="432.90" rx="1.45" ry="1.38"/><ellipse cx="225.97" cy="431.72" rx="1.45" ry="1.38"/><ellipse cx="227.14" cy="425.34" rx="1.45" ry="1.38"/><ellipse cx="228.82" cy="421.64" rx="1.45" ry="1.38"/><ellipse cx="231.01" cy="423.66" rx="1.45" ry="1.38"/><ellipse cx="232.69" cy="429.54" rx="1.45" ry="1.38"/><ellipse cx="234.37" cy="434.08" rx="1.45" ry="1.38"/><ellipse cx="235.71" cy="439.12" rx="1.45" ry="1.38"/><ellipse cx="237.73" cy="440.46" rx="1.45" ry="1.38"/><ellipse cx="239.41" cy="447.18" rx="1.45" ry="1.38"/><ellipse cx="240.00" cy="445.50" rx="1.45" ry="1.38"/><ellipse cx="241.68" cy="444.66" rx="1.45" ry="1.38"/><ellipse cx="243.36" cy="443.82" rx="1.45" ry="1.38"/><ellipse cx="245.04" cy="442.98" rx="1.45" ry="1.38"/><ellipse cx="246.72" cy="442.14" rx="1.45" ry="1.38"/><ellipse cx="248.40" cy="440.46" rx="1.45" ry="1.38"/><ellipse cx="250.08" cy="448.87" rx="1.45" ry="1.38"/><ellipse cx="251.76" cy="444.66" rx="1.45" ry="1.38"/><ellipse cx="253.78" cy="437.44" rx="1.45" ry="1.38"/><ellipse cx="255.46" cy="439.62" rx="1.45" ry="1.38"/><ellipse cx="257.14" cy="441.30" rx="1.45" ry="1.38"/><ellipse cx="258.82" cy="439.62" rx="1.45" ry="1.38"/><ellipse cx="260.50" cy="442.98" rx="1.45" ry="1.38"/><ellipse cx="262.18" cy="444.66" rx="1.45" ry="1.38"/><ellipse cx="263.87" cy="447.18" rx="1.45" ry="1.38"/><ellipse cx="265.55" cy="445.50" rx="1.45" ry="1.38"/><ellipse cx="267.23" cy="448.03" rx="1.45" ry="1.38"/><ellipse cx="268.91" cy="448.53" rx="1.45" ry="1.38"/><ellipse cx="271.09" cy="449.71" rx="1.45" ry="1.38"/><ellipse cx="272.77" cy="456.43" rx="1.45" ry="1.38"/><ellipse cx="274.45" cy="454.75" rx="1.45" ry="1.38"/><ellipse cx="276.13" cy="456.43" rx="1.45" ry="1.38"/><ellipse cx="278.66" cy="457.61" rx="1.45" ry="1.38"/><ellipse cx="280.34" cy="463.15" rx="1.45" ry="1.38"/><ellipse cx="282.02" cy="465.67" rx="1.45" ry="1.38"/><ellipse cx="283.70" cy="464.83" rx="1.45" ry="1.38"/><ellipse cx="285.38" cy="462.31" rx="1.45" ry="1.38"/><ellipse cx="287.06" cy="461.97" rx="1.45" ry="1.38"/><ellipse cx="288.74" cy="462.65" rx="1.45" ry="1.38"/><ellipse cx="290.42" cy="463.99" rx="1.45" ry="1.38"/><ellipse cx="292.10" cy="465.67" rx="1.45" ry="1.38"/><ellipse cx="293.45" cy="469.87" rx="1.45" ry="1.38"/><ellipse cx="294.62" cy="476.60" rx="1.45" ry="1.38"/><ellipse cx="296.30" cy="474.08" rx="1.45" ry="1.38"/><ellipse cx="297.98" cy="474.41" rx="1.45" ry="1.38"/><ellipse cx="299.66" cy="475.42" rx="1.45" ry="1.38"/><ellipse cx="301.85" cy="476.60" rx="1.45" ry="1.38"/><ellipse cx="303.53" cy="469.03" rx="1.45" ry="1.38"/><ellipse cx="304.71" cy="463.15" rx="1.45" ry="1.38"/><ellipse cx="306.39" cy="459.79" rx="1.45" ry="1.38"/><ellipse cx="308.07" cy="454.75" rx="1.45" ry="1.38"/><ellipse cx="310.25" cy="453.91" rx="1.45" ry="1.38"/><ellipse cx="312.27" cy="453.91" rx="1.45" ry="1.38"/><ellipse cx="313.95" cy="457.27" rx="1.45" ry="1.38"/><ellipse cx="315.63" cy="457.27" rx="1.45" ry="1.38"/><ellipse cx="317.65" cy="456.43" rx="1.45" ry="1.38"/><ellipse cx="318.99" cy="449.71" rx="1.45" ry="1.38"/><ellipse cx="321.01" cy="447.52" rx="1.45" ry="1.38"/><ellipse cx="322.69" cy="450.55" rx="1.45" ry="1.38"/><ellipse cx="324.87" cy="458.95" rx="1.45" ry="1.38"/><ellipse cx="326.55" cy="457.27" rx="1.45" ry="1.38"/><ellipse cx="328.24" cy="458.11" rx="1.45" ry="1.38"/><ellipse cx="330.25" cy="456.43" rx="1.45" ry="1.38"/><ellipse cx="331.93" cy="437.44" rx="1.45" ry="1.38"/><ellipse cx="333.61" cy="447.18" rx="1.45" ry="1.38"/><ellipse cx="335.46" cy="452.23" rx="1.45" ry="1.38"/><ellipse cx="337.14" cy="459.79" rx="1.45" ry="1.38"/><ellipse cx="339.16" cy="458.95" rx="1.45" ry="1.38"/><ellipse cx="340.84" cy="465.67" rx="1.45" ry="1.38"/><ellipse cx="342.52" cy="471.55" rx="1.45" ry="1.38"/><ellipse cx="344.54" cy="460.63" rx="1.45" ry="1.38"/><ellipse cx="345.88" cy="468.19" rx="1.45" ry="1.38"/><ellipse cx="347.90" cy="473.24" rx="1.45" ry="1.38"/><ellipse cx="349.58" cy="470.71" rx="1.45" ry="1.38"/><ellipse cx="351.26" cy="467.35" rx="1.45" ry="1.38"/><ellipse cx="352.94" cy="469.87" rx="1.45" ry="1.38"/><ellipse cx="354.62" cy="473.24" rx="1.45" ry="1.38"/><ellipse cx="356.30" cy="474.08" rx="1.45" ry="1.38"/><ellipse cx="358.49" cy="470.71" rx="1.45" ry="1.38"/><ellipse cx="360.17" cy="472.39" rx="1.45" ry="1.38"/><ellipse cx="361.85" cy="465.67" rx="1.45" ry="1.38"/><ellipse cx="363.53" cy="468.19" rx="1.45" ry="1.38"/><ellipse cx="365.21" cy="465.67" rx="1.45" ry="1.38"/><ellipse cx="366.89" cy="467.35" rx="1.45" ry="1.38"/><ellipse cx="368.57" cy="470.71" rx="1.45" ry="1.38"/><ellipse cx="370.25" cy="469.03" rx="1.45" ry="1.38"/><ellipse cx="370.84" cy="471.55" rx="1.45" ry="1.38"/><ellipse cx="371.93" cy="471.55" rx="1.45" ry="1.38"/><ellipse cx="372.52" cy="467.35" rx="1.45" ry="1.38"/><ellipse cx="374.20" cy="464.83" rx="1.45" ry="1.38"/><ellipse cx="375.88" cy="463.15" rx="1.45" ry="1.38"/><ellipse cx="377.56" cy="461.47" rx="1.45" ry="1.38"/><ellipse cx="379.24" cy="460.63" rx="1.45" ry="1.38"/><ellipse cx="380.92" cy="463.15" rx="1.45" ry="1.38"/><ellipse cx="382.10" cy="467.35" rx="1.45" ry="1.38"/><ellipse cx="383.45" cy="463.15" rx="1.45" ry="1.38"/><ellipse cx="385.13" cy="458.95" rx="1.45" ry="1.38"/><ellipse cx="386.81" cy="457.27" rx="1.45" ry="1.38"/><ellipse cx="388.49" cy="458.95" rx="1.45" ry="1.38"/><ellipse cx="390.17" cy="462.31" rx="1.45" ry="1.38"/><ellipse cx="391.85" cy="457.27" rx="1.45" ry="1.38"/><ellipse cx="393.53" cy="455.59" rx="1.45" ry="1.38"/><ellipse cx="395.21" cy="458.95" rx="1.45" ry="1.38"/><ellipse cx="396.89" cy="457.27" rx="1.45" ry="1.38"/><ellipse cx="398.57" cy="455.59" rx="1.45" ry="1.38"/><ellipse cx="400.25" cy="451.89" rx="1.45" ry="1.38"/><ellipse cx="401.93" cy="451.39" rx="1.45" ry="1.38"/><ellipse cx="403.61" cy="453.07" rx="1.45" ry="1.38"/><ellipse cx="404.96" cy="444.16" rx="1.45" ry="1.38"/><ellipse cx="406.64" cy="447.18" rx="1.45" ry="1.38"/><ellipse cx="408.32" cy="448.87" rx="1.45" ry="1.38"/><ellipse cx="410.34" cy="449.71" rx="1.45" ry="1.38"/><ellipse cx="412.02" cy="444.66" rx="1.45" ry="1.38"/><ellipse cx="413.70" cy="445.50" rx="1.45" ry="1.38"/><ellipse cx="415.38" cy="453.07" rx="1.45" ry="1.38"/><ellipse cx="417.39" cy="443.82" rx="1.45" ry="1.38"/><ellipse cx="419.08" cy="445.50" rx="1.45" ry="1.38"/><ellipse cx="420.76" cy="449.71" rx="1.45" ry="1.38"/><ellipse cx="422.44" cy="452.23" rx="1.45" ry="1.38"/><ellipse cx="424.12" cy="453.07" rx="1.45" ry="1.38"/><ellipse cx="426.30" cy="453.91" rx="1.45" ry="1.38"/><ellipse cx="427.98" cy="460.63" rx="1.45" ry="1.38"/><ellipse cx="429.66" cy="462.31" rx="1.45" ry="1.38"/><ellipse cx="431.34" cy="460.63" rx="1.45" ry="1.38"/><ellipse cx="433.03" cy="463.99" rx="1.45" ry="1.38"/><ellipse cx="434.71" cy="462.31" rx="1.45" ry="1.38"/><ellipse cx="436.39" cy="463.15" rx="1.45" ry="1.38"/><ellipse cx="438.07" cy="463.99" rx="1.45" ry="1.38"/><ellipse cx="440.25" cy="459.79" rx="1.45" ry="1.38"/><ellipse cx="441.93" cy="463.15" rx="1.45" ry="1.38"/><ellipse cx="443.95" cy="468.19" rx="1.45" ry="1.38"/><ellipse cx="445.63" cy="469.03" rx="1.45" ry="1.38"/><ellipse cx="447.65" cy="467.35" rx="1.45" ry="1.38"/><ellipse cx="449.33" cy="465.67" rx="1.45" ry="1.38"/><ellipse cx="450.67" cy="470.71" rx="1.45" ry="1.38"/><ellipse cx="452.35" cy="471.55" rx="1.45" ry="1.38"/><ellipse cx="454.03" cy="469.87" rx="1.45" ry="1.38"/><ellipse cx="455.71" cy="472.39" rx="1.45" ry="1.38"/><ellipse cx="457.39" cy="474.08" rx="1.45" ry="1.38"/><ellipse cx="459.08" cy="475.76" rx="1.45" ry="1.38"/><ellipse cx="460.76" cy="474.92" rx="1.45" ry="1.38"/><ellipse cx="462.44" cy="475.76" rx="1.45" ry="1.38"/><ellipse cx="464.12" cy="474.08" rx="1.45" ry="1.38"/><ellipse cx="465.80" cy="471.55" rx="1.45" ry="1.38"/><ellipse cx="467.48" cy="472.39" rx="1.45" ry="1.38"/><ellipse cx="469.16" cy="474.08" rx="1.45" ry="1.38"/><ellipse cx="470.84" cy="469.03" rx="1.45" ry="1.38"/><ellipse cx="472.52" cy="469.87" rx="1.45" ry="1.38"/><ellipse cx="474.54" cy="472.06" rx="1.45" ry="1.38"/><ellipse cx="476.22" cy="469.87" rx="1.45" ry="1.38"/><ellipse cx="477.90" cy="463.99" rx="1.45" ry="1.38"/><ellipse cx="479.58" cy="463.15" rx="1.45" ry="1.38"/><ellipse cx="481.26" cy="460.63" rx="1.45" ry="1.38"/><ellipse cx="482.94" cy="458.61" rx="1.45" ry="1.38"/><ellipse cx="484.62" cy="455.59" rx="1.45" ry="1.38"/><ellipse cx="486.30" cy="457.27" rx="1.45" ry="1.38"/><ellipse cx="487.98" cy="457.61" rx="1.45" ry="1.38"/><ellipse cx="489.66" cy="446.34" rx="1.45" ry="1.38"/><ellipse cx="491.34" cy="456.43" rx="1.45" ry="1.38"/><ellipse cx="493.03" cy="458.95" rx="1.45" ry="1.38"/><ellipse cx="494.71" cy="448.03" rx="1.45" ry="1.38"/><ellipse cx="496.39" cy="453.07" rx="1.45" ry="1.38"/><ellipse cx="498.57" cy="439.62" rx="1.45" ry="1.38"/><ellipse cx="500.92" cy="437.02" rx="1.45" ry="1.38"/><ellipse cx="502.61" cy="428.61" rx="1.45" ry="1.38"/><ellipse cx="504.29" cy="424.24" rx="1.45" ry="1.38"/><ellipse cx="505.97" cy="423.57" rx="1.45" ry="1.38"/><ellipse cx="507.65" cy="419.71" rx="1.45" ry="1.38"/><ellipse cx="509.83" cy="417.18" rx="1.45" ry="1.38"/><ellipse cx="511.51" cy="412.14" rx="1.45" ry="1.38"/><ellipse cx="513.53" cy="403.74" rx="1.45" ry="1.38"/><ellipse cx="515.21" cy="395.34" rx="1.45" ry="1.38"/><ellipse cx="516.89" cy="401.22" rx="1.45" ry="1.38"/><ellipse cx="518.91" cy="400.04" rx="1.45" ry="1.38"/><ellipse cx="520.25" cy="381.05" rx="1.45" ry="1.38"/><ellipse cx="522.27" cy="380.55" rx="1.45" ry="1.38"/><ellipse cx="523.95" cy="362.56" rx="1.45" ry="1.38"/><ellipse cx="525.63" cy="370.97" rx="1.45" ry="1.38"/><ellipse cx="527.31" cy="368.45" rx="1.45" ry="1.38"/><ellipse cx="528.99" cy="366.43" rx="1.45" ry="1.38"/><ellipse cx="530.67" cy="370.97" rx="1.45" ry="1.38"/><ellipse cx="532.35" cy="369.79" rx="1.45" ry="1.38"/><ellipse cx="534.54" cy="365.92" rx="1.45" ry="1.38"/><ellipse cx="536.22" cy="381.05" rx="1.45" ry="1.38"/><ellipse cx="537.90" cy="391.13" rx="1.45" ry="1.38"/><ellipse cx="540.08" cy="393.99" rx="1.45" ry="1.38"/><ellipse cx="541.76" cy="409.62" rx="1.45" ry="1.38"/><ellipse cx="543.45" cy="412.98" rx="1.45" ry="1.38"/><ellipse cx="545.46" cy="410.80" rx="1.45" ry="1.38"/><ellipse cx="547.14" cy="417.52" rx="1.45" ry="1.38"/><ellipse cx="548.82" cy="403.40" rx="1.45" ry="1.38"/><ellipse cx="550.50" cy="401.22" rx="1.45" ry="1.38"/><ellipse cx="552.52" cy="400.71" rx="1.45" ry="1.38"/><ellipse cx="554.20" cy="424.75" rx="1.45" ry="1.38"/><ellipse cx="556.39" cy="425.59" rx="1.45" ry="1.38"/><ellipse cx="557.56" cy="442.39" rx="1.45" ry="1.38"/><ellipse cx="559.24" cy="449.12" rx="1.45" ry="1.38"/><ellipse cx="560.92" cy="445.76" rx="1.45" ry="1.38"/><ellipse cx="563.07" cy="452.14" rx="1.45" ry="1.38"/><ellipse cx="564.75" cy="464.75" rx="1.45" ry="1.38"/><ellipse cx="566.93" cy="470.29" rx="1.45" ry="1.38"/><ellipse cx="568.61" cy="464.75" rx="1.45" ry="1.38"/><ellipse cx="570.29" cy="455.17" rx="1.45" ry="1.38"/><ellipse cx="571.97" cy="449.12" rx="1.45" ry="1.38"/><ellipse cx="573.99" cy="442.90" rx="1.45" ry="1.38"/><ellipse cx="575.67" cy="438.36" rx="1.45" ry="1.38"/><ellipse cx="577.35" cy="433.66" rx="1.45" ry="1.38"/><ellipse cx="579.37" cy="435.00" rx="1.45" ry="1.38"/><ellipse cx="581.05" cy="440.38" rx="1.45" ry="1.38"/><ellipse cx="582.73" cy="442.06" rx="1.45" ry="1.38"/><ellipse cx="584.41" cy="443.74" rx="1.45" ry="1.38"/><ellipse cx="586.09" cy="449.12" rx="1.45" ry="1.38"/><ellipse cx="587.77" cy="423.91" rx="1.45" ry="1.38"/><ellipse cx="589.45" cy="426.09" rx="1.45" ry="1.38"/><ellipse cx="591.13" cy="424.92" rx="1.45" ry="1.38"/><ellipse cx="592.86" cy="422.56" rx="1.45" ry="1.38"/><ellipse cx="594.54" cy="407.44" rx="1.45" ry="1.38"/><ellipse cx="596.72" cy="403.40" rx="1.45" ry="1.38"/><ellipse cx="598.40" cy="386.60" rx="1.45" ry="1.38"/><ellipse cx="600.59" cy="390.63" rx="1.45" ry="1.38"/><ellipse cx="602.27" cy="413.82" rx="1.45" ry="1.38"/><ellipse cx="604.29" cy="423.07" rx="1.45" ry="1.38"/><ellipse cx="605.97" cy="438.19" rx="1.45" ry="1.38"/><ellipse cx="607.65" cy="442.39" rx="1.45" ry="1.38"/><ellipse cx="609.33" cy="446.09" rx="1.45" ry="1.38"/><ellipse cx="611.01" cy="440.71" rx="1.45" ry="1.38"/><ellipse cx="612.69" cy="443.24" rx="1.45" ry="1.38"/><ellipse cx="614.37" cy="445.76" rx="1.45" ry="1.38"/><ellipse cx="616.05" cy="447.10" rx="1.45" ry="1.38"/><ellipse cx="617.73" cy="447.44" rx="1.45" ry="1.38"/><ellipse cx="619.41" cy="449.12" rx="1.45" ry="1.38"/><ellipse cx="621.09" cy="451.64" rx="1.45" ry="1.38"/><ellipse cx="622.77" cy="453.32" rx="1.45" ry="1.38"/></g></g></g><rect x="113.4" y="84.8" width="510.1" height="396.8" fill="none" stroke="#000" stroke-width="1.4"/><g font-family="'Liberation Serif', serif" fill="#000"><g stroke="#000" stroke-width="0.28"><text x="183.20" y="44.30" font-size="34.3" textLength="373.23" lengthAdjust="spacingAndGlyphs">Wind Speed / 2011-05-30</text><text x="96.30" y="70.80" font-size="17" textLength="37.19" lengthAdjust="spacingAndGlyphs">[m/s]</text><text transform="translate(86.63,91.70) scale(0.834,1)" font-size="19.5">1</text><text transform="translate(95.90,91.70) scale(0.985,1)" font-size="19.5">5</text><text transform="translate(85.72,223.70) scale(0.812,1)" font-size="19.5">1</text><text transform="translate(94.17,223.70) scale(1.201,1)" font-size="19.5">0</text><text transform="translate(93.67,355.60) scale(1.021,1)" font-size="19.5">5</text><text transform="translate(92.19,487.80) scale(1.160,1)" font-size="19.5">0</text><text transform="translate(197.40,506.6) scale(1.27,1)" x="-18.73 -10.70 -2.74 1.67 9.54" y="0" font-size="18.5">00:00</text><text transform="translate(282.85,506.6) scale(1.27,1)" x="-18.73 -10.70 -2.74 1.67 9.54" y="0" font-size="18.5">00:00</text><text transform="translate(367.90,506.6) scale(1.27,1)" x="-18.73 -10.70 -2.74 1.67 9.54" y="0" font-size="18.5">00:00</text><text transform="translate(453.45,506.6) scale(1.27,1)" x="-18.73 -10.70 -2.74 1.67 9.54" y="0" font-size="18.5">00:00</text><text transform="translate(538.10,506.6) scale(1.27,1)" x="-18.73 -10.70 -2.74 1.67 9.54" y="0" font-size="18.5">00:00</text><text x="123.69" y="530.60" font-size="18.8" textLength="62.73" lengthAdjust="spacingAndGlyphs">May-25</text><text x="209.19" y="530.60" font-size="18.8" textLength="62.42" lengthAdjust="spacingAndGlyphs">May-26</text><text x="293.89" y="530.60" font-size="18.8" textLength="62.42" lengthAdjust="spacingAndGlyphs">May-27</text><text x="379.54" y="530.60" font-size="18.8" textLength="62.73" lengthAdjust="spacingAndGlyphs">May-28</text><text x="464.84" y="530.60" font-size="18.8" textLength="62.73" lengthAdjust="spacingAndGlyphs">May-29</text><text x="550.44" y="530.60" font-size="18.8" textLength="62.73" lengthAdjust="spacingAndGlyphs">May-30</text><text x="339.74" y="554.40" font-size="20" textLength="59.54" lengthAdjust="spacingAndGlyphs">(LST)</text></g><text x="659.84" y="415.90" font-size="17" textLength="93.13" lengthAdjust="spacingAndGlyphs">at 29.5 m SE</text><text x="659.84" y="444.40" font-size="17" textLength="101.19" lengthAdjust="spacingAndGlyphs">at 29.5 m NW</text><text x="659.84" y="472.40" font-size="17" textLength="58.58" lengthAdjust="spacingAndGlyphs">at 1.6 m</text><text x="663.12" y="532.70" font-size="10.5" textLength="116.66" lengthAdjust="spacingAndGlyphs">©TERC, Univ. Tsukuba</text><text x="653.56" y="548.80" font-size="13.5" textLength="169.15" lengthAdjust="spacingAndGlyphs">Observed at TERC Tower site</text><text x="560.86" y="565.60" font-size="13" textLength="261.97" lengthAdjust="spacingAndGlyphs">Created Automatically at 2011-05-30/23:32:09</text><text x="424.38" y="582.40" font-size="13" textLength="397.07" lengthAdjust="spacingAndGlyphs">Data source : /home/hojyo/new/TERC-data/sorted_data/FLUX.30m.dat</text></g><rect x="638" y="396.6" width="184" height="84.8" fill="none" stroke="#000" stroke-width="1.3"/><g stroke="#ff0000" opacity="0.8" fill="none"><path d="M643.3 410.7H654.8" stroke-width="0.7"/><ellipse cx="649.1" cy="410.7" rx="1.45" ry="1.38" stroke-width="0.9"/></g><g stroke="#00e000" opacity="1" fill="none"><path d="M643.3 439.3H654.8" stroke-width="0.7"/><ellipse cx="649.1" cy="439.3" rx="1.45" ry="1.38" stroke-width="0.9"/></g><g stroke="#0000ff" opacity="1" fill="none"><path d="M643.3 467.4H654.8" stroke-width="0.7"/><ellipse cx="649.1" cy="467.4" rx="1.45" ry="1.38" stroke-width="0.9"/></g><g transform="translate(785.2,504)">
<rect x="0" y="0" width="33.4" height="33.6" rx="0.8" fill="#0a5cf5"/>
<path d="M11.2 -0.2 C12.2 3.5 12.8 6.1 14.6 6.1 L19.4 6.1 C21.2 6.1 21.8 3.5 22.8 -0.2 Z" fill="#fff"/>
<path d="M17 7.9 C16.6 10 13.9 12 13.9 14.9 C13.9 16.8 15.3 17.6 17 17.6 C18.7 17.6 20.1 16.8 20.1 14.9 C20.1 12 17.4 10 17 7.9 Z" fill="#fff"/>
<path d="M0 8.5 L0.9 8.5 L0.9 10.6 L0 10.6 Z M33.4 8.5 L32.5 8.5 L32.5 10.6 L33.4 10.6 Z" fill="#fff"/>
<g stroke="#fff" fill="none" stroke-width="0.95">
<path d="M-0.3 10.9 C3 15.5 8 20.6 13.5 21 L20.3 21 C26 20.6 30.6 15.5 33.7 10.9"/>
<path d="M-0.3 15.6 C3 19.2 7.5 22.4 12.5 22.6 L21.3 22.6 C26.5 22.4 30.6 19.2 33.7 15.6"/>
<path d="M-0.3 19.4 C3 22.3 6.5 24.2 11.5 24.4 L22.3 24.4 C27.5 24.2 30.6 22.3 33.7 19.4"/>
</g>
<g font-family="'Liberation Sans', sans-serif" font-weight="bold" font-size="8.2" fill="#fff" text-anchor="middle">
<text x="3.2" y="32.9">T</text><text x="12.3" y="32.9">E</text><text x="21.6" y="32.9">R</text><text x="30.3" y="32.9">C</text>
</g>
</g>
</svg>
</body></html>
